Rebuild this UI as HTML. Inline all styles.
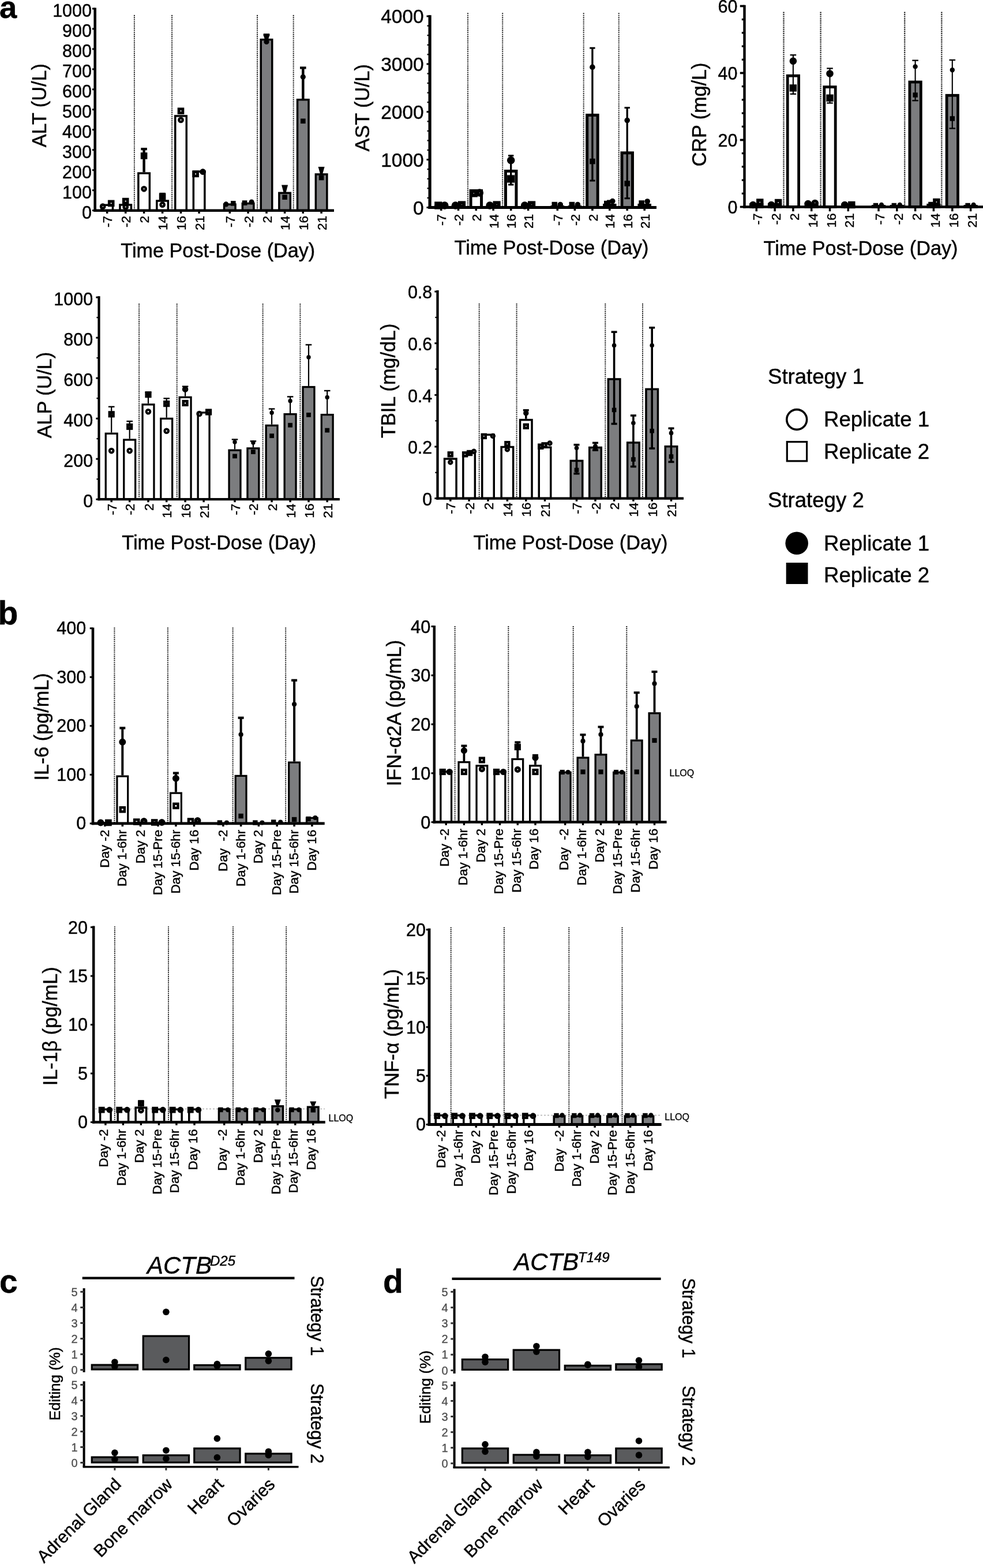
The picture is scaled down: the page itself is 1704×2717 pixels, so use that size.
<!DOCTYPE html>
<html><head><meta charset="utf-8"><title>Figure</title>
<style>
html,body{margin:0;padding:0;background:#fff;}
body{width:1704px;height:2717px;overflow:hidden;}
svg{display:block;}
text{font-family:"Liberation Sans", Arial, Helvetica, sans-serif;}
</style></head>
<body>
<svg width="1704" height="2717" viewBox="0 0 1704 2717">
<rect x="0" y="0" width="1704" height="2717" fill="#fff"/>
<line x1="232.9" y1="26" x2="232.9" y2="364.7" stroke="#000" stroke-width="2" stroke-linecap="butt" stroke-dasharray="1.7,1.6"/>
<line x1="298.1" y1="26" x2="298.1" y2="364.7" stroke="#000" stroke-width="2" stroke-linecap="butt" stroke-dasharray="1.7,1.6"/>
<line x1="446" y1="26" x2="446" y2="364.7" stroke="#000" stroke-width="2" stroke-linecap="butt" stroke-dasharray="1.7,1.6"/>
<line x1="508.7" y1="26" x2="508.7" y2="364.7" stroke="#000" stroke-width="2" stroke-linecap="butt" stroke-dasharray="1.7,1.6"/>
<rect x="175.95" y="355.25" width="19.5" height="9.45" fill="#fff" stroke="#000" stroke-width="3.5"/>
<circle cx="178.2" cy="357.7" r="3.25" fill="none" stroke="#000" stroke-width="4.3"/>
<rect x="189.3" y="349" width="6.8" height="6.8" fill="none" stroke="#000" stroke-width="4.8"/>
<rect x="207.95" y="354.95" width="19.5" height="9.75" fill="#fff" stroke="#000" stroke-width="3.5"/>
<rect x="214.3" y="345.2" width="6.8" height="6.8" fill="none" stroke="#000" stroke-width="4.8"/>
<circle cx="217.7" cy="358.5" r="3.25" fill="none" stroke="#000" stroke-width="4.3"/>
<rect x="239.85" y="300.15" width="19.5" height="64.55" fill="#fff" stroke="#000" stroke-width="3.5"/>
<line x1="249.6" y1="258.2" x2="249.6" y2="298.4" stroke="#000" stroke-width="4.5" stroke-linecap="butt"/>
<line x1="244.3" y1="258.2" x2="254.9" y2="258.2" stroke="#000" stroke-width="4.2" stroke-linecap="butt"/>
<rect x="246.2" y="266.6" width="6.8" height="6.8" fill="none" stroke="#000" stroke-width="4.8"/>
<circle cx="249.6" cy="327.3" r="3.25" fill="none" stroke="#000" stroke-width="4.3"/>
<rect x="271.85" y="348.05" width="19.5" height="16.65" fill="#fff" stroke="#000" stroke-width="3.5"/>
<line x1="281.6" y1="336" x2="281.6" y2="346.3" stroke="#000" stroke-width="4.5" stroke-linecap="butt"/>
<line x1="276.3" y1="336" x2="286.9" y2="336" stroke="#000" stroke-width="4.2" stroke-linecap="butt"/>
<rect x="278.2" y="337.6" width="6.8" height="6.8" fill="none" stroke="#000" stroke-width="4.8"/>
<circle cx="281.6" cy="354.7" r="3.25" fill="none" stroke="#000" stroke-width="4.3"/>
<rect x="303.75" y="200.95" width="19.5" height="163.75" fill="#fff" stroke="#000" stroke-width="3.5"/>
<rect x="310.1" y="188.9" width="6.8" height="6.8" fill="none" stroke="#000" stroke-width="4.8"/>
<circle cx="313.5" cy="207.9" r="3.25" fill="none" stroke="#000" stroke-width="4.3"/>
<rect x="335.35" y="297.15" width="19.5" height="67.55" fill="#fff" stroke="#000" stroke-width="3.5"/>
<rect x="335.7" y="298" width="6.8" height="6.8" fill="none" stroke="#000" stroke-width="4.8"/>
<circle cx="351.6" cy="297.7" r="3.25" fill="none" stroke="#000" stroke-width="4.3"/>
<rect x="388.55" y="354.15" width="19.5" height="10.55" fill="#7c7d7f" stroke="#000" stroke-width="3.5"/>
<circle cx="391.8" cy="353.9" r="4.6" fill="#000"/>
<rect x="400" y="348.1" width="8.6" height="8.6" fill="#000"/>
<rect x="420.35" y="352.55" width="19.5" height="12.15" fill="#7c7d7f" stroke="#000" stroke-width="3.5"/>
<rect x="419.8" y="347.3" width="8.6" height="8.6" fill="#000"/>
<circle cx="436.1" cy="350" r="4.6" fill="#000"/>
<rect x="452.25" y="68.65" width="19.5" height="296.05" fill="#7c7d7f" stroke="#000" stroke-width="3.5"/>
<line x1="462" y1="60.3" x2="462" y2="66.9" stroke="#000" stroke-width="4.5" stroke-linecap="butt"/>
<line x1="456.7" y1="60.3" x2="467.3" y2="60.3" stroke="#000" stroke-width="4.2" stroke-linecap="butt"/>
<polygon points="456.5,60 467.5,60 464.2,71 459.8,71" fill="#000"/>
<circle cx="462" cy="72.5" r="4.6" fill="#000"/>
<rect x="483.85" y="334.35" width="19.5" height="30.35" fill="#7c7d7f" stroke="#000" stroke-width="3.5"/>
<polygon points="488.1,320.4 499.1,320.4 495.8,333 491.4,333" fill="#000"/>
<rect x="489.3" y="337.4" width="8.6" height="8.6" fill="#000"/>
<rect x="515.55" y="172.75" width="19.5" height="191.95" fill="#7c7d7f" stroke="#000" stroke-width="3.5"/>
<line x1="525.3" y1="117.5" x2="525.3" y2="171" stroke="#000" stroke-width="4.5" stroke-linecap="butt"/>
<line x1="520" y1="117.5" x2="530.6" y2="117.5" stroke="#000" stroke-width="4.2" stroke-linecap="butt"/>
<circle cx="525.3" cy="133.3" r="4.6" fill="#000"/>
<rect x="521" y="205.5" width="8.6" height="8.6" fill="#000"/>
<rect x="547.35" y="302.05" width="19.5" height="62.65" fill="#7c7d7f" stroke="#000" stroke-width="3.5"/>
<polygon points="551.6,289 562.6,289 559.3,301 554.9,301" fill="#000"/>
<rect x="552.8" y="303.7" width="8.6" height="8.6" fill="#000"/>
<line x1="164.7" y1="13.6" x2="164.7" y2="367" stroke="#000" stroke-width="4.6" stroke-linecap="butt"/>
<line x1="162.4" y1="364.7" x2="579" y2="364.7" stroke="#000" stroke-width="4.6" stroke-linecap="butt"/>
<line x1="159.9" y1="364.7" x2="164.7" y2="364.7" stroke="#000" stroke-width="3" stroke-linecap="butt"/>
<text x="159" y="379" font-size="30.5" text-anchor="end" stroke="#000" stroke-width="0.45">0</text>
<line x1="159.9" y1="329.73" x2="164.7" y2="329.73" stroke="#000" stroke-width="3" stroke-linecap="butt"/>
<text x="159" y="344.03" font-size="30.5" text-anchor="end" stroke="#000" stroke-width="0.45">100</text>
<line x1="159.9" y1="294.76" x2="164.7" y2="294.76" stroke="#000" stroke-width="3" stroke-linecap="butt"/>
<text x="159" y="309.06" font-size="30.5" text-anchor="end" stroke="#000" stroke-width="0.45">200</text>
<line x1="159.9" y1="259.79" x2="164.7" y2="259.79" stroke="#000" stroke-width="3" stroke-linecap="butt"/>
<text x="159" y="274.09" font-size="30.5" text-anchor="end" stroke="#000" stroke-width="0.45">300</text>
<line x1="159.9" y1="224.82" x2="164.7" y2="224.82" stroke="#000" stroke-width="3" stroke-linecap="butt"/>
<text x="159" y="239.12" font-size="30.5" text-anchor="end" stroke="#000" stroke-width="0.45">400</text>
<line x1="159.9" y1="189.85" x2="164.7" y2="189.85" stroke="#000" stroke-width="3" stroke-linecap="butt"/>
<text x="159" y="204.15" font-size="30.5" text-anchor="end" stroke="#000" stroke-width="0.45">500</text>
<line x1="159.9" y1="154.88" x2="164.7" y2="154.88" stroke="#000" stroke-width="3" stroke-linecap="butt"/>
<text x="159" y="169.18" font-size="30.5" text-anchor="end" stroke="#000" stroke-width="0.45">600</text>
<line x1="159.9" y1="119.91" x2="164.7" y2="119.91" stroke="#000" stroke-width="3" stroke-linecap="butt"/>
<text x="159" y="134.21" font-size="30.5" text-anchor="end" stroke="#000" stroke-width="0.45">700</text>
<line x1="159.9" y1="84.94" x2="164.7" y2="84.94" stroke="#000" stroke-width="3" stroke-linecap="butt"/>
<text x="159" y="99.24" font-size="30.5" text-anchor="end" stroke="#000" stroke-width="0.45">800</text>
<line x1="159.9" y1="49.97" x2="164.7" y2="49.97" stroke="#000" stroke-width="3" stroke-linecap="butt"/>
<text x="159" y="64.27" font-size="30.5" text-anchor="end" stroke="#000" stroke-width="0.45">900</text>
<line x1="159.9" y1="15" x2="164.7" y2="15" stroke="#000" stroke-width="3" stroke-linecap="butt"/>
<text x="159" y="29.3" font-size="30.5" text-anchor="end" stroke="#000" stroke-width="0.45">1000</text>
<line x1="185.7" y1="364.7" x2="185.7" y2="370" stroke="#000" stroke-width="3.5" stroke-linecap="butt"/>
<line x1="217.7" y1="364.7" x2="217.7" y2="370" stroke="#000" stroke-width="3.5" stroke-linecap="butt"/>
<line x1="249.6" y1="364.7" x2="249.6" y2="370" stroke="#000" stroke-width="3.5" stroke-linecap="butt"/>
<line x1="281.6" y1="364.7" x2="281.6" y2="370" stroke="#000" stroke-width="3.5" stroke-linecap="butt"/>
<line x1="313.5" y1="364.7" x2="313.5" y2="370" stroke="#000" stroke-width="3.5" stroke-linecap="butt"/>
<line x1="345.1" y1="364.7" x2="345.1" y2="370" stroke="#000" stroke-width="3.5" stroke-linecap="butt"/>
<line x1="398.3" y1="364.7" x2="398.3" y2="370" stroke="#000" stroke-width="3.5" stroke-linecap="butt"/>
<line x1="430.1" y1="364.7" x2="430.1" y2="370" stroke="#000" stroke-width="3.5" stroke-linecap="butt"/>
<line x1="462" y1="364.7" x2="462" y2="370" stroke="#000" stroke-width="3.5" stroke-linecap="butt"/>
<line x1="493.6" y1="364.7" x2="493.6" y2="370" stroke="#000" stroke-width="3.5" stroke-linecap="butt"/>
<line x1="525.3" y1="364.7" x2="525.3" y2="370" stroke="#000" stroke-width="3.5" stroke-linecap="butt"/>
<line x1="557.1" y1="364.7" x2="557.1" y2="370" stroke="#000" stroke-width="3.5" stroke-linecap="butt"/>
<text x="194.3" y="374" font-size="22.5" text-anchor="end" stroke="#000" stroke-width="0.45" transform="rotate(-90 194.3 374)">-7</text>
<text x="226.3" y="374" font-size="22.5" text-anchor="end" stroke="#000" stroke-width="0.45" transform="rotate(-90 226.3 374)">-2</text>
<text x="258.2" y="374" font-size="22.5" text-anchor="end" stroke="#000" stroke-width="0.45" transform="rotate(-90 258.2 374)">2</text>
<text x="290.2" y="374" font-size="22.5" text-anchor="end" stroke="#000" stroke-width="0.45" transform="rotate(-90 290.2 374)">14</text>
<text x="322.1" y="374" font-size="22.5" text-anchor="end" stroke="#000" stroke-width="0.45" transform="rotate(-90 322.1 374)">16</text>
<text x="353.7" y="374" font-size="22.5" text-anchor="end" stroke="#000" stroke-width="0.45" transform="rotate(-90 353.7 374)">21</text>
<text x="406.9" y="374" font-size="22.5" text-anchor="end" stroke="#000" stroke-width="0.45" transform="rotate(-90 406.9 374)">-7</text>
<text x="438.7" y="374" font-size="22.5" text-anchor="end" stroke="#000" stroke-width="0.45" transform="rotate(-90 438.7 374)">-2</text>
<text x="470.6" y="374" font-size="22.5" text-anchor="end" stroke="#000" stroke-width="0.45" transform="rotate(-90 470.6 374)">2</text>
<text x="502.2" y="374" font-size="22.5" text-anchor="end" stroke="#000" stroke-width="0.45" transform="rotate(-90 502.2 374)">14</text>
<text x="533.9" y="374" font-size="22.5" text-anchor="end" stroke="#000" stroke-width="0.45" transform="rotate(-90 533.9 374)">16</text>
<text x="565.7" y="374" font-size="22.5" text-anchor="end" stroke="#000" stroke-width="0.45" transform="rotate(-90 565.7 374)">21</text>
<text x="79.8" y="182.7" font-size="34.2" text-anchor="middle" stroke="#000" stroke-width="0.45" transform="rotate(-90 79.8 182.7)">ALT (U/L)</text>
<text x="377.8" y="445.6" font-size="34.2" text-anchor="middle" stroke="#000" stroke-width="0.45">Time Post-Dose (Day)</text>
<line x1="811" y1="22.6" x2="811" y2="359.5" stroke="#000" stroke-width="2" stroke-linecap="butt" stroke-dasharray="1.7,1.6"/>
<line x1="871.2" y1="22.6" x2="871.2" y2="359.5" stroke="#000" stroke-width="2" stroke-linecap="butt" stroke-dasharray="1.7,1.6"/>
<line x1="1011.7" y1="22.6" x2="1011.7" y2="359.5" stroke="#000" stroke-width="2" stroke-linecap="butt" stroke-dasharray="1.7,1.6"/>
<line x1="1072.7" y1="22.6" x2="1072.7" y2="359.5" stroke="#000" stroke-width="2" stroke-linecap="butt" stroke-dasharray="1.7,1.6"/>
<rect x="755.55" y="357.5" width="18.5" height="2" fill="#fff" stroke="#000" stroke-width="5"/>
<rect x="756.2" y="352.4" width="7.2" height="7.2" fill="none" stroke="#000" stroke-width="6"/>
<circle cx="770.8" cy="356" r="3.7" fill="none" stroke="#000" stroke-width="6.2"/>
<rect x="785.25" y="357.5" width="18.5" height="2" fill="#fff" stroke="#000" stroke-width="5"/>
<circle cx="789.5" cy="356" r="3.7" fill="none" stroke="#000" stroke-width="6.2"/>
<rect x="796.9" y="351.4" width="7.2" height="7.2" fill="none" stroke="#000" stroke-width="6"/>
<rect x="816.05" y="330.5" width="18.5" height="29" fill="#fff" stroke="#000" stroke-width="5"/>
<rect x="817.7" y="331.4" width="7.2" height="7.2" fill="none" stroke="#000" stroke-width="6"/>
<circle cx="831.3" cy="334" r="3.7" fill="none" stroke="#000" stroke-width="6.2"/>
<rect x="845.85" y="357.5" width="18.5" height="2" fill="#fff" stroke="#000" stroke-width="5"/>
<circle cx="849.1" cy="356" r="3.7" fill="none" stroke="#000" stroke-width="6.2"/>
<rect x="857.5" y="351.4" width="7.2" height="7.2" fill="none" stroke="#000" stroke-width="6"/>
<rect x="876.45" y="296.5" width="18.5" height="63" fill="#fff" stroke="#000" stroke-width="5"/>
<line x1="885.7" y1="269.7" x2="885.7" y2="320" stroke="#000" stroke-width="3.3" stroke-linecap="butt"/>
<line x1="881" y1="269.7" x2="890.4" y2="269.7" stroke="#000" stroke-width="3" stroke-linecap="butt"/>
<line x1="881" y1="320" x2="890.4" y2="320" stroke="#000" stroke-width="3" stroke-linecap="butt"/>
<circle cx="885.7" cy="277.7" r="3.7" fill="none" stroke="#000" stroke-width="6.2"/>
<rect x="882.1" y="306.4" width="7.2" height="7.2" fill="none" stroke="#000" stroke-width="6"/>
<rect x="906.35" y="357.5" width="18.5" height="2" fill="#fff" stroke="#000" stroke-width="5"/>
<circle cx="909.6" cy="356" r="3.7" fill="none" stroke="#000" stroke-width="6.2"/>
<rect x="918" y="351.4" width="7.2" height="7.2" fill="none" stroke="#000" stroke-width="6"/>
<rect x="957.05" y="358.5" width="18.5" height="1" fill="#7c7d7f" stroke="#000" stroke-width="5"/>
<rect x="956.5" y="349.8" width="9.6" height="9.6" fill="#000"/>
<circle cx="971.3" cy="354.6" r="4.8" fill="#000"/>
<rect x="987.15" y="358.5" width="18.5" height="1" fill="#7c7d7f" stroke="#000" stroke-width="5"/>
<rect x="986.6" y="349.8" width="9.6" height="9.6" fill="#000"/>
<circle cx="1001.4" cy="354.6" r="4.8" fill="#000"/>
<rect x="1017.65" y="199.5" width="18.5" height="160" fill="#7c7d7f" stroke="#000" stroke-width="5"/>
<line x1="1026.9" y1="83.2" x2="1026.9" y2="313" stroke="#000" stroke-width="3.3" stroke-linecap="butt"/>
<line x1="1022.2" y1="83.2" x2="1031.6" y2="83.2" stroke="#000" stroke-width="3" stroke-linecap="butt"/>
<line x1="1022.2" y1="313" x2="1031.6" y2="313" stroke="#000" stroke-width="3" stroke-linecap="butt"/>
<circle cx="1026.9" cy="116.4" r="4.8" fill="#000"/>
<rect x="1022.1" y="274.8" width="9.6" height="9.6" fill="#000"/>
<rect x="1047.55" y="355.5" width="18.5" height="4" fill="#7c7d7f" stroke="#000" stroke-width="5"/>
<line x1="1056.8" y1="348" x2="1056.8" y2="353" stroke="#000" stroke-width="3.3" stroke-linecap="butt"/>
<line x1="1052.1" y1="348" x2="1061.5" y2="348" stroke="#000" stroke-width="3" stroke-linecap="butt"/>
<rect x="1047" y="347.8" width="9.6" height="9.6" fill="#000"/>
<circle cx="1061.8" cy="348.6" r="4.8" fill="#000"/>
<rect x="1077.95" y="264.9" width="18.5" height="94.6" fill="#7c7d7f" stroke="#000" stroke-width="5"/>
<line x1="1087.2" y1="186.7" x2="1087.2" y2="343.7" stroke="#000" stroke-width="3.3" stroke-linecap="butt"/>
<line x1="1082.5" y1="186.7" x2="1091.9" y2="186.7" stroke="#000" stroke-width="3" stroke-linecap="butt"/>
<line x1="1082.5" y1="343.7" x2="1091.9" y2="343.7" stroke="#000" stroke-width="3" stroke-linecap="butt"/>
<circle cx="1087.2" cy="208.6" r="4.8" fill="#000"/>
<rect x="1082.4" y="313.2" width="9.6" height="9.6" fill="#000"/>
<rect x="1107.95" y="355.5" width="18.5" height="4" fill="#7c7d7f" stroke="#000" stroke-width="5"/>
<rect x="1107.4" y="347.2" width="9.6" height="9.6" fill="#000"/>
<circle cx="1122.2" cy="349" r="4.8" fill="#000"/>
<line x1="745.1" y1="26.3" x2="745.1" y2="362.1" stroke="#000" stroke-width="5.2" stroke-linecap="butt"/>
<line x1="742.5" y1="359.5" x2="1138" y2="359.5" stroke="#000" stroke-width="5.2" stroke-linecap="butt"/>
<line x1="739.5" y1="359.5" x2="745.1" y2="359.5" stroke="#000" stroke-width="3" stroke-linecap="butt"/>
<text x="734.7" y="371.5" font-size="33.5" text-anchor="end" stroke="#000" stroke-width="0.45">0</text>
<line x1="739.5" y1="276.65" x2="745.1" y2="276.65" stroke="#000" stroke-width="3" stroke-linecap="butt"/>
<text x="734.7" y="288.65" font-size="33.5" text-anchor="end" stroke="#000" stroke-width="0.45">1000</text>
<line x1="739.5" y1="193.8" x2="745.1" y2="193.8" stroke="#000" stroke-width="3" stroke-linecap="butt"/>
<text x="734.7" y="205.8" font-size="33.5" text-anchor="end" stroke="#000" stroke-width="0.45">2000</text>
<line x1="739.5" y1="110.95" x2="745.1" y2="110.95" stroke="#000" stroke-width="3" stroke-linecap="butt"/>
<text x="734.7" y="122.95" font-size="33.5" text-anchor="end" stroke="#000" stroke-width="0.45">3000</text>
<line x1="739.5" y1="28.1" x2="745.1" y2="28.1" stroke="#000" stroke-width="3" stroke-linecap="butt"/>
<text x="734.7" y="40.1" font-size="33.5" text-anchor="end" stroke="#000" stroke-width="0.45">4000</text>
<line x1="740.5" y1="342.93" x2="745.1" y2="342.93" stroke="#000" stroke-width="2.2" stroke-linecap="butt"/>
<line x1="740.5" y1="326.36" x2="745.1" y2="326.36" stroke="#000" stroke-width="2.2" stroke-linecap="butt"/>
<line x1="740.5" y1="309.79" x2="745.1" y2="309.79" stroke="#000" stroke-width="2.2" stroke-linecap="butt"/>
<line x1="740.5" y1="293.22" x2="745.1" y2="293.22" stroke="#000" stroke-width="2.2" stroke-linecap="butt"/>
<line x1="740.5" y1="260.08" x2="745.1" y2="260.08" stroke="#000" stroke-width="2.2" stroke-linecap="butt"/>
<line x1="740.5" y1="243.51" x2="745.1" y2="243.51" stroke="#000" stroke-width="2.2" stroke-linecap="butt"/>
<line x1="740.5" y1="226.94" x2="745.1" y2="226.94" stroke="#000" stroke-width="2.2" stroke-linecap="butt"/>
<line x1="740.5" y1="210.37" x2="745.1" y2="210.37" stroke="#000" stroke-width="2.2" stroke-linecap="butt"/>
<line x1="740.5" y1="177.23" x2="745.1" y2="177.23" stroke="#000" stroke-width="2.2" stroke-linecap="butt"/>
<line x1="740.5" y1="160.66" x2="745.1" y2="160.66" stroke="#000" stroke-width="2.2" stroke-linecap="butt"/>
<line x1="740.5" y1="144.09" x2="745.1" y2="144.09" stroke="#000" stroke-width="2.2" stroke-linecap="butt"/>
<line x1="740.5" y1="127.52" x2="745.1" y2="127.52" stroke="#000" stroke-width="2.2" stroke-linecap="butt"/>
<line x1="740.5" y1="94.38" x2="745.1" y2="94.38" stroke="#000" stroke-width="2.2" stroke-linecap="butt"/>
<line x1="740.5" y1="77.81" x2="745.1" y2="77.81" stroke="#000" stroke-width="2.2" stroke-linecap="butt"/>
<line x1="740.5" y1="61.24" x2="745.1" y2="61.24" stroke="#000" stroke-width="2.2" stroke-linecap="butt"/>
<line x1="740.5" y1="44.67" x2="745.1" y2="44.67" stroke="#000" stroke-width="2.2" stroke-linecap="butt"/>
<line x1="764.8" y1="359.5" x2="764.8" y2="365.1" stroke="#000" stroke-width="3.5" stroke-linecap="butt"/>
<line x1="794.5" y1="359.5" x2="794.5" y2="365.1" stroke="#000" stroke-width="3.5" stroke-linecap="butt"/>
<line x1="825.3" y1="359.5" x2="825.3" y2="365.1" stroke="#000" stroke-width="3.5" stroke-linecap="butt"/>
<line x1="855.1" y1="359.5" x2="855.1" y2="365.1" stroke="#000" stroke-width="3.5" stroke-linecap="butt"/>
<line x1="885.7" y1="359.5" x2="885.7" y2="365.1" stroke="#000" stroke-width="3.5" stroke-linecap="butt"/>
<line x1="915.6" y1="359.5" x2="915.6" y2="365.1" stroke="#000" stroke-width="3.5" stroke-linecap="butt"/>
<line x1="966.3" y1="359.5" x2="966.3" y2="365.1" stroke="#000" stroke-width="3.5" stroke-linecap="butt"/>
<line x1="996.4" y1="359.5" x2="996.4" y2="365.1" stroke="#000" stroke-width="3.5" stroke-linecap="butt"/>
<line x1="1026.9" y1="359.5" x2="1026.9" y2="365.1" stroke="#000" stroke-width="3.5" stroke-linecap="butt"/>
<line x1="1056.8" y1="359.5" x2="1056.8" y2="365.1" stroke="#000" stroke-width="3.5" stroke-linecap="butt"/>
<line x1="1087.2" y1="359.5" x2="1087.2" y2="365.1" stroke="#000" stroke-width="3.5" stroke-linecap="butt"/>
<line x1="1117.2" y1="359.5" x2="1117.2" y2="365.1" stroke="#000" stroke-width="3.5" stroke-linecap="butt"/>
<text x="773.4" y="371" font-size="22.5" text-anchor="end" stroke="#000" stroke-width="0.45" transform="rotate(-90 773.4 371)">-7</text>
<text x="803.1" y="371" font-size="22.5" text-anchor="end" stroke="#000" stroke-width="0.45" transform="rotate(-90 803.1 371)">-2</text>
<text x="833.9" y="371" font-size="22.5" text-anchor="end" stroke="#000" stroke-width="0.45" transform="rotate(-90 833.9 371)">2</text>
<text x="863.7" y="371" font-size="22.5" text-anchor="end" stroke="#000" stroke-width="0.45" transform="rotate(-90 863.7 371)">14</text>
<text x="894.3" y="371" font-size="22.5" text-anchor="end" stroke="#000" stroke-width="0.45" transform="rotate(-90 894.3 371)">16</text>
<text x="924.2" y="371" font-size="22.5" text-anchor="end" stroke="#000" stroke-width="0.45" transform="rotate(-90 924.2 371)">21</text>
<text x="974.9" y="371" font-size="22.5" text-anchor="end" stroke="#000" stroke-width="0.45" transform="rotate(-90 974.9 371)">-7</text>
<text x="1005" y="371" font-size="22.5" text-anchor="end" stroke="#000" stroke-width="0.45" transform="rotate(-90 1005 371)">-2</text>
<text x="1035.5" y="371" font-size="22.5" text-anchor="end" stroke="#000" stroke-width="0.45" transform="rotate(-90 1035.5 371)">2</text>
<text x="1065.4" y="371" font-size="22.5" text-anchor="end" stroke="#000" stroke-width="0.45" transform="rotate(-90 1065.4 371)">14</text>
<text x="1095.8" y="371" font-size="22.5" text-anchor="end" stroke="#000" stroke-width="0.45" transform="rotate(-90 1095.8 371)">16</text>
<text x="1125.8" y="371" font-size="22.5" text-anchor="end" stroke="#000" stroke-width="0.45" transform="rotate(-90 1125.8 371)">21</text>
<text x="639.8" y="186.7" font-size="34.2" text-anchor="middle" stroke="#000" stroke-width="0.45" transform="rotate(-90 639.8 186.7)">AST (U/L)</text>
<text x="956" y="441.3" font-size="34.2" text-anchor="middle" stroke="#000" stroke-width="0.45">Time Post-Dose (Day)</text>
<line x1="1358.5" y1="20.8" x2="1358.5" y2="358.5" stroke="#000" stroke-width="2.4" stroke-linecap="butt" stroke-dasharray="1.7,1.6"/>
<line x1="1422.6" y1="20.8" x2="1422.6" y2="358.5" stroke="#000" stroke-width="2.4" stroke-linecap="butt" stroke-dasharray="1.7,1.6"/>
<line x1="1568.2" y1="20.8" x2="1568.2" y2="358.5" stroke="#000" stroke-width="2.4" stroke-linecap="butt" stroke-dasharray="1.7,1.6"/>
<line x1="1632.3" y1="20.8" x2="1632.3" y2="358.5" stroke="#000" stroke-width="2.4" stroke-linecap="butt" stroke-dasharray="1.7,1.6"/>
<rect x="1301.6" y="354.4" width="19.4" height="4.1" fill="#fff" stroke="#000" stroke-width="4.8"/>
<circle cx="1305.3" cy="355" r="3.6" fill="none" stroke="#000" stroke-width="5.4"/>
<rect x="1313.8" y="347" width="7" height="7" fill="none" stroke="#000" stroke-width="5.4"/>
<rect x="1333.4" y="354.4" width="19.4" height="4.1" fill="#fff" stroke="#000" stroke-width="4.8"/>
<circle cx="1337.1" cy="355" r="3.6" fill="none" stroke="#000" stroke-width="5.4"/>
<rect x="1345.6" y="347.5" width="7" height="7" fill="none" stroke="#000" stroke-width="5.4"/>
<rect x="1365.2" y="131.3" width="19.4" height="227.2" fill="#fff" stroke="#000" stroke-width="4.8"/>
<line x1="1374.9" y1="95.3" x2="1374.9" y2="162.9" stroke="#000" stroke-width="2.1" stroke-linecap="butt"/>
<line x1="1369.6" y1="95.3" x2="1380.2" y2="95.3" stroke="#000" stroke-width="2.3" stroke-linecap="butt"/>
<line x1="1369.6" y1="162.9" x2="1380.2" y2="162.9" stroke="#000" stroke-width="2.3" stroke-linecap="butt"/>
<circle cx="1374.9" cy="105.7" r="3.6" fill="none" stroke="#000" stroke-width="5.4"/>
<rect x="1371.4" y="149" width="7" height="7" fill="none" stroke="#000" stroke-width="5.4"/>
<rect x="1397" y="354.4" width="19.4" height="4.1" fill="#fff" stroke="#000" stroke-width="4.8"/>
<circle cx="1400.7" cy="353" r="3.6" fill="none" stroke="#000" stroke-width="5.4"/>
<circle cx="1412.7" cy="352" r="3.6" fill="none" stroke="#000" stroke-width="5.4"/>
<rect x="1428.8" y="150.7" width="19.4" height="207.8" fill="#fff" stroke="#000" stroke-width="4.8"/>
<line x1="1438.5" y1="118.5" x2="1438.5" y2="178.5" stroke="#000" stroke-width="2.1" stroke-linecap="butt"/>
<line x1="1433.2" y1="118.5" x2="1443.8" y2="118.5" stroke="#000" stroke-width="2.3" stroke-linecap="butt"/>
<line x1="1433.2" y1="178.5" x2="1443.8" y2="178.5" stroke="#000" stroke-width="2.3" stroke-linecap="butt"/>
<circle cx="1438.5" cy="127.5" r="3.6" fill="none" stroke="#000" stroke-width="5.4"/>
<rect x="1435" y="166.3" width="7" height="7" fill="none" stroke="#000" stroke-width="5.4"/>
<rect x="1460.6" y="356.4" width="19.4" height="2.1" fill="#fff" stroke="#000" stroke-width="4.8"/>
<circle cx="1464.3" cy="355" r="3.6" fill="none" stroke="#000" stroke-width="5.4"/>
<rect x="1472.8" y="351.5" width="7" height="7" fill="none" stroke="#000" stroke-width="5.4"/>
<rect x="1513.3" y="357.4" width="19.4" height="1.1" fill="#7c7d7f" stroke="#000" stroke-width="4.8"/>
<rect x="1513.8" y="351.8" width="8.4" height="8.4" fill="#000"/>
<circle cx="1528" cy="355" r="4.2" fill="#000"/>
<rect x="1545.1" y="357.4" width="19.4" height="1.1" fill="#7c7d7f" stroke="#000" stroke-width="4.8"/>
<rect x="1545.6" y="351.8" width="8.4" height="8.4" fill="#000"/>
<circle cx="1559.8" cy="355" r="4.2" fill="#000"/>
<rect x="1576.9" y="142.1" width="19.4" height="216.4" fill="#7c7d7f" stroke="#000" stroke-width="4.8"/>
<line x1="1586.6" y1="104.7" x2="1586.6" y2="174.3" stroke="#000" stroke-width="2.1" stroke-linecap="butt"/>
<line x1="1581.3" y1="104.7" x2="1591.9" y2="104.7" stroke="#000" stroke-width="2.3" stroke-linecap="butt"/>
<line x1="1581.3" y1="174.3" x2="1591.9" y2="174.3" stroke="#000" stroke-width="2.3" stroke-linecap="butt"/>
<circle cx="1586.6" cy="115.4" r="4.2" fill="#000"/>
<rect x="1582.4" y="160.4" width="8.4" height="8.4" fill="#000"/>
<rect x="1608.7" y="355.4" width="19.4" height="3.1" fill="#7c7d7f" stroke="#000" stroke-width="4.8"/>
<rect x="1609.2" y="349.8" width="8.4" height="8.4" fill="#000"/>
<rect x="1619.9" y="346.5" width="7" height="7" fill="none" stroke="#000" stroke-width="5.4"/>
<rect x="1641.1" y="165.3" width="19.4" height="193.2" fill="#7c7d7f" stroke="#000" stroke-width="4.8"/>
<line x1="1650.8" y1="104" x2="1650.8" y2="222.5" stroke="#000" stroke-width="2.1" stroke-linecap="butt"/>
<line x1="1645.5" y1="104" x2="1656.1" y2="104" stroke="#000" stroke-width="2.3" stroke-linecap="butt"/>
<line x1="1645.5" y1="222.5" x2="1656.1" y2="222.5" stroke="#000" stroke-width="2.3" stroke-linecap="butt"/>
<circle cx="1650.8" cy="121.3" r="4.2" fill="#000"/>
<rect x="1646.6" y="201.3" width="8.4" height="8.4" fill="#000"/>
<rect x="1672.9" y="357.4" width="19.4" height="1.1" fill="#7c7d7f" stroke="#000" stroke-width="4.8"/>
<rect x="1673.4" y="351.8" width="8.4" height="8.4" fill="#000"/>
<circle cx="1687.6" cy="355" r="4.2" fill="#000"/>
<line x1="1290.5" y1="8.7" x2="1290.5" y2="360.7" stroke="#000" stroke-width="4.4" stroke-linecap="butt"/>
<line x1="1288.3" y1="358.5" x2="1704" y2="358.5" stroke="#000" stroke-width="4.4" stroke-linecap="butt"/>
<line x1="1282.8" y1="358.5" x2="1290.5" y2="358.5" stroke="#000" stroke-width="3.7" stroke-linecap="butt"/>
<text x="1278.4" y="369.8" font-size="30.5" text-anchor="end" stroke="#000" stroke-width="0.45">0</text>
<line x1="1282.8" y1="242.5" x2="1290.5" y2="242.5" stroke="#000" stroke-width="3.7" stroke-linecap="butt"/>
<text x="1278.4" y="253.8" font-size="30.5" text-anchor="end" stroke="#000" stroke-width="0.45">20</text>
<line x1="1282.8" y1="126.5" x2="1290.5" y2="126.5" stroke="#000" stroke-width="3.7" stroke-linecap="butt"/>
<text x="1278.4" y="137.8" font-size="30.5" text-anchor="end" stroke="#000" stroke-width="0.45">40</text>
<line x1="1282.8" y1="10.5" x2="1290.5" y2="10.5" stroke="#000" stroke-width="3.7" stroke-linecap="butt"/>
<text x="1278.4" y="21.8" font-size="30.5" text-anchor="end" stroke="#000" stroke-width="0.45">60</text>
<line x1="1285.8" y1="335.3" x2="1290.5" y2="335.3" stroke="#000" stroke-width="3.2" stroke-linecap="butt"/>
<line x1="1285.8" y1="312.1" x2="1290.5" y2="312.1" stroke="#000" stroke-width="3.2" stroke-linecap="butt"/>
<line x1="1285.8" y1="288.9" x2="1290.5" y2="288.9" stroke="#000" stroke-width="3.2" stroke-linecap="butt"/>
<line x1="1285.8" y1="265.7" x2="1290.5" y2="265.7" stroke="#000" stroke-width="3.2" stroke-linecap="butt"/>
<line x1="1285.8" y1="219.3" x2="1290.5" y2="219.3" stroke="#000" stroke-width="3.2" stroke-linecap="butt"/>
<line x1="1285.8" y1="196.1" x2="1290.5" y2="196.1" stroke="#000" stroke-width="3.2" stroke-linecap="butt"/>
<line x1="1285.8" y1="172.9" x2="1290.5" y2="172.9" stroke="#000" stroke-width="3.2" stroke-linecap="butt"/>
<line x1="1285.8" y1="149.7" x2="1290.5" y2="149.7" stroke="#000" stroke-width="3.2" stroke-linecap="butt"/>
<line x1="1285.8" y1="103.3" x2="1290.5" y2="103.3" stroke="#000" stroke-width="3.2" stroke-linecap="butt"/>
<line x1="1285.8" y1="80.1" x2="1290.5" y2="80.1" stroke="#000" stroke-width="3.2" stroke-linecap="butt"/>
<line x1="1285.8" y1="56.9" x2="1290.5" y2="56.9" stroke="#000" stroke-width="3.2" stroke-linecap="butt"/>
<line x1="1285.8" y1="33.7" x2="1290.5" y2="33.7" stroke="#000" stroke-width="3.2" stroke-linecap="butt"/>
<line x1="1311.3" y1="358.5" x2="1311.3" y2="366.2" stroke="#000" stroke-width="3.5" stroke-linecap="butt"/>
<line x1="1343.1" y1="358.5" x2="1343.1" y2="366.2" stroke="#000" stroke-width="3.5" stroke-linecap="butt"/>
<line x1="1374.9" y1="358.5" x2="1374.9" y2="366.2" stroke="#000" stroke-width="3.5" stroke-linecap="butt"/>
<line x1="1406.7" y1="358.5" x2="1406.7" y2="366.2" stroke="#000" stroke-width="3.5" stroke-linecap="butt"/>
<line x1="1438.5" y1="358.5" x2="1438.5" y2="366.2" stroke="#000" stroke-width="3.5" stroke-linecap="butt"/>
<line x1="1470.3" y1="358.5" x2="1470.3" y2="366.2" stroke="#000" stroke-width="3.5" stroke-linecap="butt"/>
<line x1="1523" y1="358.5" x2="1523" y2="366.2" stroke="#000" stroke-width="3.5" stroke-linecap="butt"/>
<line x1="1554.8" y1="358.5" x2="1554.8" y2="366.2" stroke="#000" stroke-width="3.5" stroke-linecap="butt"/>
<line x1="1586.6" y1="358.5" x2="1586.6" y2="366.2" stroke="#000" stroke-width="3.5" stroke-linecap="butt"/>
<line x1="1618.4" y1="358.5" x2="1618.4" y2="366.2" stroke="#000" stroke-width="3.5" stroke-linecap="butt"/>
<line x1="1650.8" y1="358.5" x2="1650.8" y2="366.2" stroke="#000" stroke-width="3.5" stroke-linecap="butt"/>
<line x1="1682.6" y1="358.5" x2="1682.6" y2="366.2" stroke="#000" stroke-width="3.5" stroke-linecap="butt"/>
<text x="1321.4" y="369.5" font-size="22.5" text-anchor="end" stroke="#000" stroke-width="0.45" transform="rotate(-90 1321.4 369.5)">-7</text>
<text x="1353.2" y="369.5" font-size="22.5" text-anchor="end" stroke="#000" stroke-width="0.45" transform="rotate(-90 1353.2 369.5)">-2</text>
<text x="1385" y="369.5" font-size="22.5" text-anchor="end" stroke="#000" stroke-width="0.45" transform="rotate(-90 1385 369.5)">2</text>
<text x="1416.8" y="369.5" font-size="22.5" text-anchor="end" stroke="#000" stroke-width="0.45" transform="rotate(-90 1416.8 369.5)">14</text>
<text x="1448.6" y="369.5" font-size="22.5" text-anchor="end" stroke="#000" stroke-width="0.45" transform="rotate(-90 1448.6 369.5)">16</text>
<text x="1480.4" y="369.5" font-size="22.5" text-anchor="end" stroke="#000" stroke-width="0.45" transform="rotate(-90 1480.4 369.5)">21</text>
<text x="1533.1" y="369.5" font-size="22.5" text-anchor="end" stroke="#000" stroke-width="0.45" transform="rotate(-90 1533.1 369.5)">-7</text>
<text x="1564.9" y="369.5" font-size="22.5" text-anchor="end" stroke="#000" stroke-width="0.45" transform="rotate(-90 1564.9 369.5)">-2</text>
<text x="1596.7" y="369.5" font-size="22.5" text-anchor="end" stroke="#000" stroke-width="0.45" transform="rotate(-90 1596.7 369.5)">2</text>
<text x="1628.5" y="369.5" font-size="22.5" text-anchor="end" stroke="#000" stroke-width="0.45" transform="rotate(-90 1628.5 369.5)">14</text>
<text x="1660.9" y="369.5" font-size="22.5" text-anchor="end" stroke="#000" stroke-width="0.45" transform="rotate(-90 1660.9 369.5)">16</text>
<text x="1692.7" y="369.5" font-size="22.5" text-anchor="end" stroke="#000" stroke-width="0.45" transform="rotate(-90 1692.7 369.5)">21</text>
<text x="1224.4" y="198.5" font-size="34.2" text-anchor="middle" stroke="#000" stroke-width="0.45" transform="rotate(-90 1224.4 198.5)">CRP (mg/L)</text>
<text x="1492" y="441.6" font-size="34.2" text-anchor="middle" stroke="#000" stroke-width="0.45">Time Post-Dose (Day)</text>
<line x1="241.1" y1="526.3" x2="241.1" y2="865.1" stroke="#000" stroke-width="2" stroke-linecap="butt" stroke-dasharray="1.7,1.6"/>
<line x1="306.7" y1="526.3" x2="306.7" y2="865.1" stroke="#000" stroke-width="2" stroke-linecap="butt" stroke-dasharray="1.7,1.6"/>
<line x1="455.6" y1="526.3" x2="455.6" y2="865.1" stroke="#000" stroke-width="2" stroke-linecap="butt" stroke-dasharray="1.7,1.6"/>
<line x1="520.4" y1="526.3" x2="520.4" y2="865.1" stroke="#000" stroke-width="2" stroke-linecap="butt" stroke-dasharray="1.7,1.6"/>
<rect x="183.25" y="751.25" width="19.9" height="113.85" fill="#fff" stroke="#000" stroke-width="3.3"/>
<line x1="193.2" y1="704.8" x2="193.2" y2="749.6" stroke="#000" stroke-width="2.2" stroke-linecap="butt"/>
<line x1="187.9" y1="704.8" x2="198.5" y2="704.8" stroke="#000" stroke-width="2.4" stroke-linecap="butt"/>
<rect x="189.9" y="714.5" width="6.6" height="6.6" fill="none" stroke="#000" stroke-width="4.6"/>
<circle cx="193.2" cy="781.1" r="3.3" fill="none" stroke="#000" stroke-width="4"/>
<rect x="214.75" y="762.05" width="19.9" height="103.05" fill="#fff" stroke="#000" stroke-width="3.3"/>
<line x1="224.7" y1="730" x2="224.7" y2="760.4" stroke="#000" stroke-width="2.2" stroke-linecap="butt"/>
<line x1="219.4" y1="730" x2="230" y2="730" stroke="#000" stroke-width="2.4" stroke-linecap="butt"/>
<rect x="221.4" y="736" width="6.6" height="6.6" fill="none" stroke="#000" stroke-width="4.6"/>
<circle cx="224.7" cy="781.1" r="3.3" fill="none" stroke="#000" stroke-width="4"/>
<rect x="247.05" y="700.95" width="19.9" height="164.15" fill="#fff" stroke="#000" stroke-width="3.3"/>
<line x1="257" y1="680" x2="257" y2="699.3" stroke="#000" stroke-width="2.2" stroke-linecap="butt"/>
<line x1="251.7" y1="680" x2="262.3" y2="680" stroke="#000" stroke-width="2.4" stroke-linecap="butt"/>
<rect x="253.7" y="680.4" width="6.6" height="6.6" fill="none" stroke="#000" stroke-width="4.6"/>
<circle cx="257" cy="713.3" r="3.3" fill="none" stroke="#000" stroke-width="4"/>
<rect x="278.75" y="725.35" width="19.9" height="139.75" fill="#fff" stroke="#000" stroke-width="3.3"/>
<line x1="288.7" y1="690.4" x2="288.7" y2="723.7" stroke="#000" stroke-width="2.2" stroke-linecap="butt"/>
<line x1="283.4" y1="690.4" x2="294" y2="690.4" stroke="#000" stroke-width="2.4" stroke-linecap="butt"/>
<rect x="285.4" y="696.3" width="6.6" height="6.6" fill="none" stroke="#000" stroke-width="4.6"/>
<circle cx="288.7" cy="746.7" r="3.3" fill="none" stroke="#000" stroke-width="4"/>
<rect x="311.15" y="688.35" width="19.9" height="176.75" fill="#fff" stroke="#000" stroke-width="3.3"/>
<line x1="321.1" y1="669.6" x2="321.1" y2="686.7" stroke="#000" stroke-width="2.2" stroke-linecap="butt"/>
<line x1="315.8" y1="669.6" x2="326.4" y2="669.6" stroke="#000" stroke-width="2.4" stroke-linecap="butt"/>
<circle cx="321.1" cy="674.4" r="3.3" fill="none" stroke="#000" stroke-width="4"/>
<rect x="317.8" y="695.2" width="6.6" height="6.6" fill="none" stroke="#000" stroke-width="4.6"/>
<rect x="343.15" y="714.95" width="19.9" height="150.15" fill="#fff" stroke="#000" stroke-width="3.3"/>
<circle cx="345.6" cy="717" r="3.3" fill="none" stroke="#000" stroke-width="4"/>
<rect x="358.3" y="710.7" width="6.6" height="6.6" fill="none" stroke="#000" stroke-width="4.6"/>
<rect x="397.05" y="780.15" width="19.9" height="84.95" fill="#7c7d7f" stroke="#000" stroke-width="3.3"/>
<line x1="407" y1="761.5" x2="407" y2="778.5" stroke="#000" stroke-width="2.2" stroke-linecap="butt"/>
<line x1="401.7" y1="761.5" x2="412.3" y2="761.5" stroke="#000" stroke-width="2.4" stroke-linecap="butt"/>
<circle cx="407" cy="766" r="3.7" fill="#000"/>
<rect x="403.1" y="786.5" width="7.8" height="7.8" fill="#000"/>
<rect x="428.95" y="776.85" width="19.9" height="88.25" fill="#7c7d7f" stroke="#000" stroke-width="3.3"/>
<line x1="438.9" y1="764.4" x2="438.9" y2="775.2" stroke="#000" stroke-width="2.2" stroke-linecap="butt"/>
<line x1="433.6" y1="764.4" x2="444.2" y2="764.4" stroke="#000" stroke-width="2.4" stroke-linecap="butt"/>
<circle cx="438.9" cy="767" r="3.7" fill="#000"/>
<rect x="435" y="779.1" width="7.8" height="7.8" fill="#000"/>
<rect x="461.15" y="737.25" width="19.9" height="127.85" fill="#7c7d7f" stroke="#000" stroke-width="3.3"/>
<line x1="471.1" y1="708.5" x2="471.1" y2="735.6" stroke="#000" stroke-width="2.2" stroke-linecap="butt"/>
<line x1="465.8" y1="708.5" x2="476.4" y2="708.5" stroke="#000" stroke-width="2.4" stroke-linecap="butt"/>
<circle cx="471.1" cy="715.2" r="3.7" fill="#000"/>
<rect x="467.2" y="751.3" width="7.8" height="7.8" fill="#000"/>
<rect x="493.15" y="717.65" width="19.9" height="147.45" fill="#7c7d7f" stroke="#000" stroke-width="3.3"/>
<line x1="503.1" y1="687.4" x2="503.1" y2="716" stroke="#000" stroke-width="2.2" stroke-linecap="butt"/>
<line x1="497.8" y1="687.4" x2="508.4" y2="687.4" stroke="#000" stroke-width="2.4" stroke-linecap="butt"/>
<circle cx="503.1" cy="694.8" r="3.7" fill="#000"/>
<rect x="499.2" y="732.8" width="7.8" height="7.8" fill="#000"/>
<rect x="525.05" y="670.55" width="19.9" height="194.55" fill="#7c7d7f" stroke="#000" stroke-width="3.3"/>
<line x1="535" y1="597.4" x2="535" y2="668.9" stroke="#000" stroke-width="2.2" stroke-linecap="butt"/>
<line x1="529.7" y1="597.4" x2="540.3" y2="597.4" stroke="#000" stroke-width="2.4" stroke-linecap="butt"/>
<circle cx="535" cy="618.9" r="3.7" fill="#000"/>
<rect x="531.1" y="715" width="7.8" height="7.8" fill="#000"/>
<rect x="557.25" y="718.65" width="19.9" height="146.45" fill="#7c7d7f" stroke="#000" stroke-width="3.3"/>
<line x1="567.2" y1="677" x2="567.2" y2="717" stroke="#000" stroke-width="2.2" stroke-linecap="butt"/>
<line x1="561.9" y1="677" x2="572.5" y2="677" stroke="#000" stroke-width="2.4" stroke-linecap="butt"/>
<circle cx="567.2" cy="688.5" r="3.7" fill="#000"/>
<rect x="563.3" y="741.7" width="7.8" height="7.8" fill="#000"/>
<line x1="171.5" y1="513.3" x2="171.5" y2="867.2" stroke="#000" stroke-width="4.2" stroke-linecap="butt"/>
<line x1="169.4" y1="865.1" x2="588.9" y2="865.1" stroke="#000" stroke-width="4.2" stroke-linecap="butt"/>
<line x1="166.4" y1="865.2" x2="171.5" y2="865.2" stroke="#000" stroke-width="3" stroke-linecap="butt"/>
<text x="161.2" y="879" font-size="30.5" text-anchor="end" stroke="#000" stroke-width="0.45">0</text>
<line x1="166.4" y1="795.2" x2="171.5" y2="795.2" stroke="#000" stroke-width="3" stroke-linecap="butt"/>
<text x="161.2" y="809" font-size="30.5" text-anchor="end" stroke="#000" stroke-width="0.45">200</text>
<line x1="166.4" y1="725.2" x2="171.5" y2="725.2" stroke="#000" stroke-width="3" stroke-linecap="butt"/>
<text x="161.2" y="739" font-size="30.5" text-anchor="end" stroke="#000" stroke-width="0.45">400</text>
<line x1="166.4" y1="655.2" x2="171.5" y2="655.2" stroke="#000" stroke-width="3" stroke-linecap="butt"/>
<text x="161.2" y="669" font-size="30.5" text-anchor="end" stroke="#000" stroke-width="0.45">600</text>
<line x1="166.4" y1="585.2" x2="171.5" y2="585.2" stroke="#000" stroke-width="3" stroke-linecap="butt"/>
<text x="161.2" y="599" font-size="30.5" text-anchor="end" stroke="#000" stroke-width="0.45">800</text>
<line x1="166.4" y1="515.2" x2="171.5" y2="515.2" stroke="#000" stroke-width="3" stroke-linecap="butt"/>
<text x="161.2" y="529" font-size="30.5" text-anchor="end" stroke="#000" stroke-width="0.45">1000</text>
<line x1="167.4" y1="830.2" x2="171.5" y2="830.2" stroke="#000" stroke-width="2.2" stroke-linecap="butt"/>
<line x1="167.4" y1="760.2" x2="171.5" y2="760.2" stroke="#000" stroke-width="2.2" stroke-linecap="butt"/>
<line x1="167.4" y1="690.2" x2="171.5" y2="690.2" stroke="#000" stroke-width="2.2" stroke-linecap="butt"/>
<line x1="167.4" y1="620.2" x2="171.5" y2="620.2" stroke="#000" stroke-width="2.2" stroke-linecap="butt"/>
<line x1="167.4" y1="550.2" x2="171.5" y2="550.2" stroke="#000" stroke-width="2.2" stroke-linecap="butt"/>
<line x1="193.2" y1="865.1" x2="193.2" y2="870.2" stroke="#000" stroke-width="3.5" stroke-linecap="butt"/>
<line x1="224.7" y1="865.1" x2="224.7" y2="870.2" stroke="#000" stroke-width="3.5" stroke-linecap="butt"/>
<line x1="257" y1="865.1" x2="257" y2="870.2" stroke="#000" stroke-width="3.5" stroke-linecap="butt"/>
<line x1="288.7" y1="865.1" x2="288.7" y2="870.2" stroke="#000" stroke-width="3.5" stroke-linecap="butt"/>
<line x1="321.1" y1="865.1" x2="321.1" y2="870.2" stroke="#000" stroke-width="3.5" stroke-linecap="butt"/>
<line x1="353.1" y1="865.1" x2="353.1" y2="870.2" stroke="#000" stroke-width="3.5" stroke-linecap="butt"/>
<line x1="407" y1="865.1" x2="407" y2="870.2" stroke="#000" stroke-width="3.5" stroke-linecap="butt"/>
<line x1="438.9" y1="865.1" x2="438.9" y2="870.2" stroke="#000" stroke-width="3.5" stroke-linecap="butt"/>
<line x1="471.1" y1="865.1" x2="471.1" y2="870.2" stroke="#000" stroke-width="3.5" stroke-linecap="butt"/>
<line x1="503.1" y1="865.1" x2="503.1" y2="870.2" stroke="#000" stroke-width="3.5" stroke-linecap="butt"/>
<line x1="535" y1="865.1" x2="535" y2="870.2" stroke="#000" stroke-width="3.5" stroke-linecap="butt"/>
<line x1="567.2" y1="865.1" x2="567.2" y2="870.2" stroke="#000" stroke-width="3.5" stroke-linecap="butt"/>
<text x="201.8" y="872.6" font-size="22.5" text-anchor="end" stroke="#000" stroke-width="0.45" transform="rotate(-90 201.8 872.6)">-7</text>
<text x="233.3" y="872.6" font-size="22.5" text-anchor="end" stroke="#000" stroke-width="0.45" transform="rotate(-90 233.3 872.6)">-2</text>
<text x="265.6" y="872.6" font-size="22.5" text-anchor="end" stroke="#000" stroke-width="0.45" transform="rotate(-90 265.6 872.6)">2</text>
<text x="297.3" y="872.6" font-size="22.5" text-anchor="end" stroke="#000" stroke-width="0.45" transform="rotate(-90 297.3 872.6)">14</text>
<text x="329.7" y="872.6" font-size="22.5" text-anchor="end" stroke="#000" stroke-width="0.45" transform="rotate(-90 329.7 872.6)">16</text>
<text x="361.7" y="872.6" font-size="22.5" text-anchor="end" stroke="#000" stroke-width="0.45" transform="rotate(-90 361.7 872.6)">21</text>
<text x="415.6" y="872.6" font-size="22.5" text-anchor="end" stroke="#000" stroke-width="0.45" transform="rotate(-90 415.6 872.6)">-7</text>
<text x="447.5" y="872.6" font-size="22.5" text-anchor="end" stroke="#000" stroke-width="0.45" transform="rotate(-90 447.5 872.6)">-2</text>
<text x="479.7" y="872.6" font-size="22.5" text-anchor="end" stroke="#000" stroke-width="0.45" transform="rotate(-90 479.7 872.6)">2</text>
<text x="511.7" y="872.6" font-size="22.5" text-anchor="end" stroke="#000" stroke-width="0.45" transform="rotate(-90 511.7 872.6)">14</text>
<text x="543.6" y="872.6" font-size="22.5" text-anchor="end" stroke="#000" stroke-width="0.45" transform="rotate(-90 543.6 872.6)">16</text>
<text x="575.8" y="872.6" font-size="22.5" text-anchor="end" stroke="#000" stroke-width="0.45" transform="rotate(-90 575.8 872.6)">21</text>
<text x="88.7" y="684.5" font-size="34.2" text-anchor="middle" stroke="#000" stroke-width="0.45" transform="rotate(-90 88.7 684.5)">ALP (U/L)</text>
<text x="379.8" y="952" font-size="34.2" text-anchor="middle" stroke="#000" stroke-width="0.45">Time Post-Dose (Day)</text>
<line x1="830.7" y1="526" x2="830.7" y2="863.6" stroke="#000" stroke-width="2" stroke-linecap="butt" stroke-dasharray="1.7,1.6"/>
<line x1="895.6" y1="526" x2="895.6" y2="863.6" stroke="#000" stroke-width="2" stroke-linecap="butt" stroke-dasharray="1.7,1.6"/>
<line x1="1049.3" y1="526" x2="1049.3" y2="863.6" stroke="#000" stroke-width="2" stroke-linecap="butt" stroke-dasharray="1.7,1.6"/>
<line x1="1114" y1="526" x2="1114" y2="863.6" stroke="#000" stroke-width="2" stroke-linecap="butt" stroke-dasharray="1.7,1.6"/>
<rect x="770.55" y="795.05" width="20.5" height="68.55" fill="#fff" stroke="#000" stroke-width="3.5"/>
<rect x="777.8" y="784.3" width="6" height="6" fill="none" stroke="#000" stroke-width="4.4"/>
<circle cx="780.8" cy="801" r="2.7" fill="none" stroke="#000" stroke-width="4"/>
<rect x="802.85" y="784.45" width="20.5" height="79.15" fill="#fff" stroke="#000" stroke-width="3.5"/>
<rect x="803.1" y="784.3" width="6" height="6" fill="none" stroke="#000" stroke-width="4.4"/>
<rect x="811.1" y="782" width="6" height="6" fill="none" stroke="#000" stroke-width="4.4"/>
<circle cx="821.5" cy="782.3" r="2.7" fill="none" stroke="#000" stroke-width="4"/>
<rect x="835.75" y="753.25" width="20.5" height="110.35" fill="#fff" stroke="#000" stroke-width="3.5"/>
<rect x="835.8" y="752.9" width="6" height="6" fill="none" stroke="#000" stroke-width="4.4"/>
<circle cx="854.3" cy="755.5" r="2.7" fill="none" stroke="#000" stroke-width="4"/>
<rect x="869.15" y="774.55" width="20.5" height="89.05" fill="#fff" stroke="#000" stroke-width="3.5"/>
<rect x="876.4" y="766.2" width="6" height="6" fill="none" stroke="#000" stroke-width="4.4"/>
<circle cx="879.4" cy="778.7" r="2.7" fill="none" stroke="#000" stroke-width="4"/>
<rect x="901.55" y="727.55" width="20.5" height="136.05" fill="#fff" stroke="#000" stroke-width="3.5"/>
<line x1="911.8" y1="710.8" x2="911.8" y2="725.8" stroke="#000" stroke-width="3.6" stroke-linecap="butt"/>
<line x1="906.8" y1="710.8" x2="916.8" y2="710.8" stroke="#000" stroke-width="3.6" stroke-linecap="butt"/>
<circle cx="911.8" cy="715.9" r="2.7" fill="none" stroke="#000" stroke-width="4"/>
<rect x="908.8" y="735.7" width="6" height="6" fill="none" stroke="#000" stroke-width="4.4"/>
<rect x="934.25" y="775.15" width="20.5" height="88.45" fill="#fff" stroke="#000" stroke-width="3.5"/>
<rect x="934.3" y="770.7" width="6" height="6" fill="none" stroke="#000" stroke-width="4.4"/>
<rect x="940.6" y="768.4" width="6" height="6" fill="none" stroke="#000" stroke-width="4.4"/>
<circle cx="953" cy="768" r="2.7" fill="none" stroke="#000" stroke-width="4"/>
<rect x="989.25" y="798.45" width="20.5" height="65.15" fill="#7c7d7f" stroke="#000" stroke-width="3.5"/>
<line x1="999.5" y1="770.7" x2="999.5" y2="820.7" stroke="#000" stroke-width="3.6" stroke-linecap="butt"/>
<line x1="994.5" y1="770.7" x2="1004.5" y2="770.7" stroke="#000" stroke-width="3.6" stroke-linecap="butt"/>
<line x1="994.5" y1="820.7" x2="1004.5" y2="820.7" stroke="#000" stroke-width="3.6" stroke-linecap="butt"/>
<circle cx="999.5" cy="776.3" r="3.8" fill="#000"/>
<rect x="995.7" y="810.6" width="7.6" height="7.6" fill="#000"/>
<rect x="1021.75" y="775.45" width="20.5" height="88.15" fill="#7c7d7f" stroke="#000" stroke-width="3.5"/>
<line x1="1032" y1="767.4" x2="1032" y2="780" stroke="#000" stroke-width="3.6" stroke-linecap="butt"/>
<line x1="1027" y1="767.4" x2="1037" y2="767.4" stroke="#000" stroke-width="3.6" stroke-linecap="butt"/>
<line x1="1027" y1="780" x2="1037" y2="780" stroke="#000" stroke-width="3.6" stroke-linecap="butt"/>
<circle cx="1032" cy="773" r="3.8" fill="#000"/>
<rect x="1028.2" y="772.2" width="7.6" height="7.6" fill="#000"/>
<rect x="1054.35" y="656.95" width="20.5" height="206.65" fill="#7c7d7f" stroke="#000" stroke-width="3.5"/>
<line x1="1064.6" y1="575.2" x2="1064.6" y2="734.4" stroke="#000" stroke-width="3.6" stroke-linecap="butt"/>
<line x1="1059.6" y1="575.2" x2="1069.6" y2="575.2" stroke="#000" stroke-width="3.6" stroke-linecap="butt"/>
<line x1="1059.6" y1="734.4" x2="1069.6" y2="734.4" stroke="#000" stroke-width="3.6" stroke-linecap="butt"/>
<circle cx="1064.6" cy="598.5" r="3.8" fill="#000"/>
<rect x="1060.8" y="706.6" width="7.6" height="7.6" fill="#000"/>
<rect x="1087.65" y="766.95" width="20.5" height="96.65" fill="#7c7d7f" stroke="#000" stroke-width="3.5"/>
<line x1="1097.9" y1="720" x2="1097.9" y2="808.5" stroke="#000" stroke-width="3.6" stroke-linecap="butt"/>
<line x1="1092.9" y1="720" x2="1102.9" y2="720" stroke="#000" stroke-width="3.6" stroke-linecap="butt"/>
<line x1="1092.9" y1="808.5" x2="1102.9" y2="808.5" stroke="#000" stroke-width="3.6" stroke-linecap="butt"/>
<circle cx="1097.9" cy="733" r="3.8" fill="#000"/>
<rect x="1094.1" y="792.2" width="7.6" height="7.6" fill="#000"/>
<rect x="1119.95" y="674.35" width="20.5" height="189.25" fill="#7c7d7f" stroke="#000" stroke-width="3.5"/>
<line x1="1130.2" y1="567.8" x2="1130.2" y2="777" stroke="#000" stroke-width="3.6" stroke-linecap="butt"/>
<line x1="1125.2" y1="567.8" x2="1135.2" y2="567.8" stroke="#000" stroke-width="3.6" stroke-linecap="butt"/>
<line x1="1125.2" y1="777" x2="1135.2" y2="777" stroke="#000" stroke-width="3.6" stroke-linecap="butt"/>
<circle cx="1130.2" cy="598.5" r="3.8" fill="#000"/>
<rect x="1126.4" y="742.9" width="7.6" height="7.6" fill="#000"/>
<rect x="1153.25" y="773.65" width="20.5" height="89.95" fill="#7c7d7f" stroke="#000" stroke-width="3.5"/>
<line x1="1163.5" y1="742.2" x2="1163.5" y2="800.4" stroke="#000" stroke-width="3.6" stroke-linecap="butt"/>
<line x1="1158.5" y1="742.2" x2="1168.5" y2="742.2" stroke="#000" stroke-width="3.6" stroke-linecap="butt"/>
<line x1="1158.5" y1="800.4" x2="1168.5" y2="800.4" stroke="#000" stroke-width="3.6" stroke-linecap="butt"/>
<circle cx="1163.5" cy="750.4" r="3.8" fill="#000"/>
<rect x="1159.7" y="787.2" width="7.6" height="7.6" fill="#000"/>
<line x1="758.5" y1="503" x2="758.5" y2="865.75" stroke="#000" stroke-width="4.3" stroke-linecap="butt"/>
<line x1="756.35" y1="863.6" x2="1185" y2="863.6" stroke="#000" stroke-width="4.3" stroke-linecap="butt"/>
<line x1="753.35" y1="863.6" x2="758.5" y2="863.6" stroke="#000" stroke-width="3" stroke-linecap="butt"/>
<text x="749.3" y="875.7" font-size="30.5" text-anchor="end" stroke="#000" stroke-width="0.45">0</text>
<line x1="753.35" y1="774" x2="758.5" y2="774" stroke="#000" stroke-width="3" stroke-linecap="butt"/>
<text x="749.3" y="786.1" font-size="30.5" text-anchor="end" stroke="#000" stroke-width="0.45">0.2</text>
<line x1="753.35" y1="684.4" x2="758.5" y2="684.4" stroke="#000" stroke-width="3" stroke-linecap="butt"/>
<text x="749.3" y="696.5" font-size="30.5" text-anchor="end" stroke="#000" stroke-width="0.45">0.4</text>
<line x1="753.35" y1="594.8" x2="758.5" y2="594.8" stroke="#000" stroke-width="3" stroke-linecap="butt"/>
<text x="749.3" y="606.9" font-size="30.5" text-anchor="end" stroke="#000" stroke-width="0.45">0.6</text>
<line x1="753.35" y1="505.2" x2="758.5" y2="505.2" stroke="#000" stroke-width="3" stroke-linecap="butt"/>
<text x="749.3" y="517.3" font-size="30.5" text-anchor="end" stroke="#000" stroke-width="0.45">0.8</text>
<line x1="754.35" y1="818.8" x2="758.5" y2="818.8" stroke="#000" stroke-width="2.2" stroke-linecap="butt"/>
<line x1="754.35" y1="729.2" x2="758.5" y2="729.2" stroke="#000" stroke-width="2.2" stroke-linecap="butt"/>
<line x1="754.35" y1="639.6" x2="758.5" y2="639.6" stroke="#000" stroke-width="2.2" stroke-linecap="butt"/>
<line x1="754.35" y1="550" x2="758.5" y2="550" stroke="#000" stroke-width="2.2" stroke-linecap="butt"/>
<line x1="780.8" y1="863.6" x2="780.8" y2="868.75" stroke="#000" stroke-width="3.5" stroke-linecap="butt"/>
<line x1="813.1" y1="863.6" x2="813.1" y2="868.75" stroke="#000" stroke-width="3.5" stroke-linecap="butt"/>
<line x1="846" y1="863.6" x2="846" y2="868.75" stroke="#000" stroke-width="3.5" stroke-linecap="butt"/>
<line x1="879.4" y1="863.6" x2="879.4" y2="868.75" stroke="#000" stroke-width="3.5" stroke-linecap="butt"/>
<line x1="911.8" y1="863.6" x2="911.8" y2="868.75" stroke="#000" stroke-width="3.5" stroke-linecap="butt"/>
<line x1="944.5" y1="863.6" x2="944.5" y2="868.75" stroke="#000" stroke-width="3.5" stroke-linecap="butt"/>
<line x1="999.5" y1="863.6" x2="999.5" y2="868.75" stroke="#000" stroke-width="3.5" stroke-linecap="butt"/>
<line x1="1032" y1="863.6" x2="1032" y2="868.75" stroke="#000" stroke-width="3.5" stroke-linecap="butt"/>
<line x1="1064.6" y1="863.6" x2="1064.6" y2="868.75" stroke="#000" stroke-width="3.5" stroke-linecap="butt"/>
<line x1="1097.9" y1="863.6" x2="1097.9" y2="868.75" stroke="#000" stroke-width="3.5" stroke-linecap="butt"/>
<line x1="1130.2" y1="863.6" x2="1130.2" y2="868.75" stroke="#000" stroke-width="3.5" stroke-linecap="butt"/>
<line x1="1163.5" y1="863.6" x2="1163.5" y2="868.75" stroke="#000" stroke-width="3.5" stroke-linecap="butt"/>
<text x="789.4" y="870.7" font-size="22.5" text-anchor="end" stroke="#000" stroke-width="0.45" transform="rotate(-90 789.4 870.7)">-7</text>
<text x="821.7" y="870.7" font-size="22.5" text-anchor="end" stroke="#000" stroke-width="0.45" transform="rotate(-90 821.7 870.7)">-2</text>
<text x="854.6" y="870.7" font-size="22.5" text-anchor="end" stroke="#000" stroke-width="0.45" transform="rotate(-90 854.6 870.7)">2</text>
<text x="888" y="870.7" font-size="22.5" text-anchor="end" stroke="#000" stroke-width="0.45" transform="rotate(-90 888 870.7)">14</text>
<text x="920.4" y="870.7" font-size="22.5" text-anchor="end" stroke="#000" stroke-width="0.45" transform="rotate(-90 920.4 870.7)">16</text>
<text x="953.1" y="870.7" font-size="22.5" text-anchor="end" stroke="#000" stroke-width="0.45" transform="rotate(-90 953.1 870.7)">21</text>
<text x="1008.1" y="870.7" font-size="22.5" text-anchor="end" stroke="#000" stroke-width="0.45" transform="rotate(-90 1008.1 870.7)">-7</text>
<text x="1040.6" y="870.7" font-size="22.5" text-anchor="end" stroke="#000" stroke-width="0.45" transform="rotate(-90 1040.6 870.7)">-2</text>
<text x="1073.2" y="870.7" font-size="22.5" text-anchor="end" stroke="#000" stroke-width="0.45" transform="rotate(-90 1073.2 870.7)">2</text>
<text x="1106.5" y="870.7" font-size="22.5" text-anchor="end" stroke="#000" stroke-width="0.45" transform="rotate(-90 1106.5 870.7)">14</text>
<text x="1138.8" y="870.7" font-size="22.5" text-anchor="end" stroke="#000" stroke-width="0.45" transform="rotate(-90 1138.8 870.7)">16</text>
<text x="1172.1" y="870.7" font-size="22.5" text-anchor="end" stroke="#000" stroke-width="0.45" transform="rotate(-90 1172.1 870.7)">21</text>
<text x="684.7" y="659.8" font-size="34.2" text-anchor="middle" stroke="#000" stroke-width="0.45" transform="rotate(-90 684.7 659.8)">TBIL (mg/dL)</text>
<text x="989" y="952" font-size="34.2" text-anchor="middle" stroke="#000" stroke-width="0.45">Time Post-Dose (Day)</text>
<line x1="198.4" y1="1087.5" x2="198.4" y2="1426.9" stroke="#000" stroke-width="2" stroke-linecap="butt" stroke-dasharray="1.7,1.6"/>
<line x1="290.9" y1="1087.5" x2="290.9" y2="1426.9" stroke="#000" stroke-width="2" stroke-linecap="butt" stroke-dasharray="1.7,1.6"/>
<line x1="403.6" y1="1087.5" x2="403.6" y2="1426.9" stroke="#000" stroke-width="2" stroke-linecap="butt" stroke-dasharray="1.7,1.6"/>
<line x1="495.2" y1="1087.5" x2="495.2" y2="1426.9" stroke="#000" stroke-width="2" stroke-linecap="butt" stroke-dasharray="1.7,1.6"/>
<rect x="172.4" y="1425.6" width="18.8" height="1.3" fill="#fff" stroke="#000" stroke-width="3.2"/>
<circle cx="174.5" cy="1425.5" r="3.3" fill="none" stroke="#000" stroke-width="5.4"/>
<rect x="184.3" y="1421.9" width="7.2" height="7.2" fill="none" stroke="#000" stroke-width="4.4"/>
<rect x="202.9" y="1345.1" width="18.8" height="81.8" fill="#fff" stroke="#000" stroke-width="3.2"/>
<line x1="212.3" y1="1261.5" x2="212.3" y2="1343.5" stroke="#000" stroke-width="4" stroke-linecap="butt"/>
<line x1="207.3" y1="1261.5" x2="217.3" y2="1261.5" stroke="#000" stroke-width="4.2" stroke-linecap="butt"/>
<circle cx="212.3" cy="1285.7" r="3.3" fill="none" stroke="#000" stroke-width="5.4"/>
<rect x="208.7" y="1399.2" width="7.2" height="7.2" fill="none" stroke="#000" stroke-width="4.4"/>
<rect x="234.1" y="1425.6" width="18.8" height="1.3" fill="#fff" stroke="#000" stroke-width="3.2"/>
<rect x="233.1" y="1420.4" width="7.2" height="7.2" fill="none" stroke="#000" stroke-width="4.4"/>
<circle cx="249.5" cy="1423" r="3.3" fill="none" stroke="#000" stroke-width="5.4"/>
<rect x="264.6" y="1425.6" width="18.8" height="1.3" fill="#fff" stroke="#000" stroke-width="3.2"/>
<rect x="264.1" y="1421.4" width="7.2" height="7.2" fill="none" stroke="#000" stroke-width="4.4"/>
<circle cx="280.5" cy="1425" r="3.3" fill="none" stroke="#000" stroke-width="5.4"/>
<rect x="295.5" y="1374.2" width="18.8" height="52.7" fill="#fff" stroke="#000" stroke-width="3.2"/>
<line x1="304.9" y1="1339.6" x2="304.9" y2="1372.6" stroke="#000" stroke-width="4" stroke-linecap="butt"/>
<line x1="299.9" y1="1339.6" x2="309.9" y2="1339.6" stroke="#000" stroke-width="4.2" stroke-linecap="butt"/>
<circle cx="304.9" cy="1348.8" r="3.3" fill="none" stroke="#000" stroke-width="5.4"/>
<rect x="301.3" y="1392.8" width="7.2" height="7.2" fill="none" stroke="#000" stroke-width="4.4"/>
<rect x="327.1" y="1425.6" width="18.8" height="1.3" fill="#fff" stroke="#000" stroke-width="3.2"/>
<rect x="326.9" y="1419.4" width="7.2" height="7.2" fill="none" stroke="#000" stroke-width="4.4"/>
<circle cx="342.5" cy="1422" r="3.3" fill="none" stroke="#000" stroke-width="5.4"/>
<rect x="377.5" y="1426.6" width="18.8" height="0.3" fill="#7c7d7f" stroke="#000" stroke-width="3.2"/>
<rect x="376.7" y="1421.3" width="8.4" height="8.4" fill="#000"/>
<circle cx="392.9" cy="1425.5" r="4.1" fill="#000"/>
<rect x="408.2" y="1344.4" width="18.8" height="82.5" fill="#7c7d7f" stroke="#000" stroke-width="3.2"/>
<line x1="417.6" y1="1243.8" x2="417.6" y2="1342.8" stroke="#000" stroke-width="4" stroke-linecap="butt"/>
<line x1="412.6" y1="1243.8" x2="422.6" y2="1243.8" stroke="#000" stroke-width="4.2" stroke-linecap="butt"/>
<circle cx="417.6" cy="1272.8" r="4.1" fill="#000"/>
<rect x="413.4" y="1409.8" width="8.4" height="8.4" fill="#000"/>
<rect x="439" y="1426.6" width="18.8" height="0.3" fill="#7c7d7f" stroke="#000" stroke-width="3.2"/>
<rect x="438.2" y="1421.3" width="8.4" height="8.4" fill="#000"/>
<circle cx="454.4" cy="1425.5" r="4.1" fill="#000"/>
<rect x="470.8" y="1426.6" width="18.8" height="0.3" fill="#7c7d7f" stroke="#000" stroke-width="3.2"/>
<rect x="470" y="1420.3" width="8.4" height="8.4" fill="#000"/>
<circle cx="486.2" cy="1424.5" r="4.1" fill="#000"/>
<rect x="500.7" y="1321.1" width="18.8" height="105.8" fill="#7c7d7f" stroke="#000" stroke-width="3.2"/>
<line x1="510.1" y1="1178.8" x2="510.1" y2="1319.5" stroke="#000" stroke-width="4" stroke-linecap="butt"/>
<line x1="505.1" y1="1178.8" x2="515.1" y2="1178.8" stroke="#000" stroke-width="4.2" stroke-linecap="butt"/>
<circle cx="510.1" cy="1220.3" r="4.1" fill="#000"/>
<rect x="505.9" y="1415.8" width="8.4" height="8.4" fill="#000"/>
<rect x="531.5" y="1417.3" width="18.8" height="9.6" fill="#7c7d7f" stroke="#000" stroke-width="3.2"/>
<rect x="530.4" y="1414.8" width="8.4" height="8.4" fill="#000"/>
<circle cx="546.4" cy="1417" r="4.1" fill="#000"/>
<line x1="161" y1="1087.5" x2="161" y2="1429.2" stroke="#000" stroke-width="4.6" stroke-linecap="butt"/>
<line x1="158.7" y1="1426.9" x2="562.7" y2="1426.9" stroke="#000" stroke-width="4.6" stroke-linecap="butt"/>
<line x1="155.7" y1="1426.9" x2="161" y2="1426.9" stroke="#000" stroke-width="3" stroke-linecap="butt"/>
<text x="149.2" y="1437.4" font-size="30.5" text-anchor="end" stroke="#000" stroke-width="0.45">0</text>
<line x1="155.7" y1="1342.35" x2="161" y2="1342.35" stroke="#000" stroke-width="3" stroke-linecap="butt"/>
<text x="149.2" y="1352.85" font-size="30.5" text-anchor="end" stroke="#000" stroke-width="0.45">100</text>
<line x1="155.7" y1="1257.8" x2="161" y2="1257.8" stroke="#000" stroke-width="3" stroke-linecap="butt"/>
<text x="149.2" y="1268.3" font-size="30.5" text-anchor="end" stroke="#000" stroke-width="0.45">200</text>
<line x1="155.7" y1="1173.25" x2="161" y2="1173.25" stroke="#000" stroke-width="3" stroke-linecap="butt"/>
<text x="149.2" y="1183.75" font-size="30.5" text-anchor="end" stroke="#000" stroke-width="0.45">300</text>
<line x1="155.7" y1="1088.7" x2="161" y2="1088.7" stroke="#000" stroke-width="3" stroke-linecap="butt"/>
<text x="149.2" y="1099.2" font-size="30.5" text-anchor="end" stroke="#000" stroke-width="0.45">400</text>
<line x1="181.8" y1="1426.9" x2="181.8" y2="1432.2" stroke="#000" stroke-width="3.5" stroke-linecap="butt"/>
<line x1="212.3" y1="1426.9" x2="212.3" y2="1432.2" stroke="#000" stroke-width="3.5" stroke-linecap="butt"/>
<line x1="243.5" y1="1426.9" x2="243.5" y2="1432.2" stroke="#000" stroke-width="3.5" stroke-linecap="butt"/>
<line x1="274" y1="1426.9" x2="274" y2="1432.2" stroke="#000" stroke-width="3.5" stroke-linecap="butt"/>
<line x1="304.9" y1="1426.9" x2="304.9" y2="1432.2" stroke="#000" stroke-width="3.5" stroke-linecap="butt"/>
<line x1="336.5" y1="1426.9" x2="336.5" y2="1432.2" stroke="#000" stroke-width="3.5" stroke-linecap="butt"/>
<line x1="386.9" y1="1426.9" x2="386.9" y2="1432.2" stroke="#000" stroke-width="3.5" stroke-linecap="butt"/>
<line x1="417.6" y1="1426.9" x2="417.6" y2="1432.2" stroke="#000" stroke-width="3.5" stroke-linecap="butt"/>
<line x1="448.4" y1="1426.9" x2="448.4" y2="1432.2" stroke="#000" stroke-width="3.5" stroke-linecap="butt"/>
<line x1="480.2" y1="1426.9" x2="480.2" y2="1432.2" stroke="#000" stroke-width="3.5" stroke-linecap="butt"/>
<line x1="510.1" y1="1426.9" x2="510.1" y2="1432.2" stroke="#000" stroke-width="3.5" stroke-linecap="butt"/>
<line x1="540.9" y1="1426.9" x2="540.9" y2="1432.2" stroke="#000" stroke-width="3.5" stroke-linecap="butt"/>
<text x="188.86" y="1437.8" font-size="22.4" text-anchor="end" stroke="#000" stroke-width="0.45" transform="rotate(-90 188.86 1437.8)">Day -2</text>
<text x="219.36" y="1437.8" font-size="22.4" text-anchor="end" stroke="#000" stroke-width="0.45" transform="rotate(-90 219.36 1437.8)">Day 1-6hr</text>
<text x="250.56" y="1437.8" font-size="22.4" text-anchor="end" stroke="#000" stroke-width="0.45" transform="rotate(-90 250.56 1437.8)">Day 2</text>
<text x="281.06" y="1437.8" font-size="22.4" text-anchor="end" stroke="#000" stroke-width="0.45" transform="rotate(-90 281.06 1437.8)">Day 15-Pre</text>
<text x="311.96" y="1437.8" font-size="22.4" text-anchor="end" stroke="#000" stroke-width="0.45" transform="rotate(-90 311.96 1437.8)">Day 15-6hr</text>
<text x="343.56" y="1437.8" font-size="22.4" text-anchor="end" stroke="#000" stroke-width="0.45" transform="rotate(-90 343.56 1437.8)">Day 16</text>
<text x="393.96" y="1437.8" font-size="22.4" text-anchor="end" stroke="#000" stroke-width="0.45" transform="rotate(-90 393.96 1437.8)">Day  -2</text>
<text x="424.66" y="1437.8" font-size="22.4" text-anchor="end" stroke="#000" stroke-width="0.45" transform="rotate(-90 424.66 1437.8)">Day 1-6hr</text>
<text x="455.46" y="1437.8" font-size="22.4" text-anchor="end" stroke="#000" stroke-width="0.45" transform="rotate(-90 455.46 1437.8)">Day 2</text>
<text x="487.26" y="1437.8" font-size="22.4" text-anchor="end" stroke="#000" stroke-width="0.45" transform="rotate(-90 487.26 1437.8)">Day 15-Pre</text>
<text x="517.16" y="1437.8" font-size="22.4" text-anchor="end" stroke="#000" stroke-width="0.45" transform="rotate(-90 517.16 1437.8)">Day 15-6hr</text>
<text x="547.96" y="1437.8" font-size="22.4" text-anchor="end" stroke="#000" stroke-width="0.45" transform="rotate(-90 547.96 1437.8)">Day 16</text>
<text x="83.8" y="1259.5" font-size="34.2" text-anchor="middle" stroke="#000" stroke-width="0.45" transform="rotate(-90 83.8 1259.5)">IL-6 (pg/mL)</text>
<line x1="788.6" y1="1085" x2="788.6" y2="1424.6" stroke="#000" stroke-width="2" stroke-linecap="butt" stroke-dasharray="1.7,1.6"/>
<line x1="881.3" y1="1085" x2="881.3" y2="1424.6" stroke="#000" stroke-width="2" stroke-linecap="butt" stroke-dasharray="1.7,1.6"/>
<line x1="993.7" y1="1085" x2="993.7" y2="1424.6" stroke="#000" stroke-width="2" stroke-linecap="butt" stroke-dasharray="1.7,1.6"/>
<line x1="1086.3" y1="1085" x2="1086.3" y2="1424.6" stroke="#000" stroke-width="2" stroke-linecap="butt" stroke-dasharray="1.7,1.6"/>
<rect x="763.85" y="1337.15" width="18.7" height="87.45" fill="#fff" stroke="#000" stroke-width="3.3"/>
<rect x="763.8" y="1334.1" width="6.8" height="6.8" fill="none" stroke="#000" stroke-width="4.4"/>
<circle cx="779.2" cy="1337.5" r="3.3" fill="none" stroke="#000" stroke-width="4.6"/>
<rect x="795.05" y="1320.65" width="18.7" height="103.95" fill="#fff" stroke="#000" stroke-width="3.3"/>
<line x1="804.4" y1="1292.4" x2="804.4" y2="1319" stroke="#000" stroke-width="3.8" stroke-linecap="butt"/>
<line x1="799.4" y1="1292.4" x2="809.4" y2="1292.4" stroke="#000" stroke-width="4" stroke-linecap="butt"/>
<circle cx="804.4" cy="1300.6" r="3.3" fill="none" stroke="#000" stroke-width="4.6"/>
<rect x="801" y="1334.1" width="6.8" height="6.8" fill="none" stroke="#000" stroke-width="4.4"/>
<rect x="826.05" y="1326.85" width="18.7" height="97.75" fill="#fff" stroke="#000" stroke-width="3.3"/>
<rect x="832" y="1313.6" width="6.8" height="6.8" fill="none" stroke="#000" stroke-width="4.4"/>
<circle cx="835.4" cy="1332.6" r="3.3" fill="none" stroke="#000" stroke-width="4.6"/>
<rect x="857.15" y="1337.15" width="18.7" height="87.45" fill="#fff" stroke="#000" stroke-width="3.3"/>
<rect x="857.1" y="1334.1" width="6.8" height="6.8" fill="none" stroke="#000" stroke-width="4.4"/>
<circle cx="872.5" cy="1337.5" r="3.3" fill="none" stroke="#000" stroke-width="4.6"/>
<rect x="887.95" y="1315.45" width="18.7" height="109.15" fill="#fff" stroke="#000" stroke-width="3.3"/>
<line x1="897.3" y1="1286.3" x2="897.3" y2="1313.8" stroke="#000" stroke-width="3.8" stroke-linecap="butt"/>
<line x1="892.3" y1="1286.3" x2="902.3" y2="1286.3" stroke="#000" stroke-width="4" stroke-linecap="butt"/>
<rect x="893.9" y="1291.1" width="6.8" height="6.8" fill="none" stroke="#000" stroke-width="4.4"/>
<circle cx="897.3" cy="1333.4" r="3.3" fill="none" stroke="#000" stroke-width="4.6"/>
<rect x="918.65" y="1326.85" width="18.7" height="97.75" fill="#fff" stroke="#000" stroke-width="3.3"/>
<line x1="928" y1="1308.8" x2="928" y2="1325.2" stroke="#000" stroke-width="3.8" stroke-linecap="butt"/>
<line x1="923" y1="1308.8" x2="933" y2="1308.8" stroke="#000" stroke-width="4" stroke-linecap="butt"/>
<circle cx="928" cy="1313" r="3.3" fill="none" stroke="#000" stroke-width="4.6"/>
<rect x="924.6" y="1334.1" width="6.8" height="6.8" fill="none" stroke="#000" stroke-width="4.4"/>
<rect x="970.35" y="1338.35" width="18.7" height="86.25" fill="#7c7d7f" stroke="#000" stroke-width="3.3"/>
<rect x="970.6" y="1333.9" width="8.2" height="8.2" fill="#000"/>
<circle cx="984.7" cy="1338" r="4.1" fill="#000"/>
<rect x="1001.15" y="1312.95" width="18.7" height="111.65" fill="#7c7d7f" stroke="#000" stroke-width="3.3"/>
<line x1="1010.5" y1="1273.2" x2="1010.5" y2="1311.3" stroke="#000" stroke-width="3.8" stroke-linecap="butt"/>
<line x1="1005.5" y1="1273.2" x2="1015.5" y2="1273.2" stroke="#000" stroke-width="4" stroke-linecap="butt"/>
<circle cx="1010.5" cy="1284.2" r="4.1" fill="#000"/>
<rect x="1006.4" y="1333.4" width="8.2" height="8.2" fill="#000"/>
<rect x="1032.15" y="1307.65" width="18.7" height="116.95" fill="#7c7d7f" stroke="#000" stroke-width="3.3"/>
<line x1="1041.5" y1="1259.6" x2="1041.5" y2="1306" stroke="#000" stroke-width="3.8" stroke-linecap="butt"/>
<line x1="1036.5" y1="1259.6" x2="1046.5" y2="1259.6" stroke="#000" stroke-width="4" stroke-linecap="butt"/>
<circle cx="1041.5" cy="1272.8" r="4.1" fill="#000"/>
<rect x="1037.4" y="1333.4" width="8.2" height="8.2" fill="#000"/>
<rect x="1063.65" y="1338.35" width="18.7" height="86.25" fill="#7c7d7f" stroke="#000" stroke-width="3.3"/>
<rect x="1063.9" y="1333.9" width="8.2" height="8.2" fill="#000"/>
<circle cx="1078" cy="1338" r="4.1" fill="#000"/>
<rect x="1094.35" y="1283.05" width="18.7" height="141.55" fill="#7c7d7f" stroke="#000" stroke-width="3.3"/>
<line x1="1103.7" y1="1200.2" x2="1103.7" y2="1281.4" stroke="#000" stroke-width="3.8" stroke-linecap="butt"/>
<line x1="1098.7" y1="1200.2" x2="1108.7" y2="1200.2" stroke="#000" stroke-width="4" stroke-linecap="butt"/>
<circle cx="1103.7" cy="1224" r="4.1" fill="#000"/>
<rect x="1099.6" y="1333.4" width="8.2" height="8.2" fill="#000"/>
<rect x="1125.15" y="1235.85" width="18.7" height="188.75" fill="#7c7d7f" stroke="#000" stroke-width="3.3"/>
<line x1="1134.5" y1="1164" x2="1134.5" y2="1234.2" stroke="#000" stroke-width="3.8" stroke-linecap="butt"/>
<line x1="1129.5" y1="1164" x2="1139.5" y2="1164" stroke="#000" stroke-width="4" stroke-linecap="butt"/>
<circle cx="1134.5" cy="1184.6" r="4.1" fill="#000"/>
<rect x="1130.4" y="1278.9" width="8.2" height="8.2" fill="#000"/>
<line x1="752.8" y1="1084" x2="752.8" y2="1426.85" stroke="#000" stroke-width="4.5" stroke-linecap="butt"/>
<line x1="750.55" y1="1424.6" x2="1155.6" y2="1424.6" stroke="#000" stroke-width="4.5" stroke-linecap="butt"/>
<line x1="747.55" y1="1424.6" x2="752.8" y2="1424.6" stroke="#000" stroke-width="3" stroke-linecap="butt"/>
<text x="746.3" y="1435.7" font-size="30.8" text-anchor="end" stroke="#000" stroke-width="0.45">0</text>
<line x1="747.55" y1="1339.8" x2="752.8" y2="1339.8" stroke="#000" stroke-width="3" stroke-linecap="butt"/>
<text x="746.3" y="1350.9" font-size="30.8" text-anchor="end" stroke="#000" stroke-width="0.45">10</text>
<line x1="747.55" y1="1255" x2="752.8" y2="1255" stroke="#000" stroke-width="3" stroke-linecap="butt"/>
<text x="746.3" y="1266.1" font-size="30.8" text-anchor="end" stroke="#000" stroke-width="0.45">20</text>
<line x1="747.55" y1="1170.2" x2="752.8" y2="1170.2" stroke="#000" stroke-width="3" stroke-linecap="butt"/>
<text x="746.3" y="1181.3" font-size="30.8" text-anchor="end" stroke="#000" stroke-width="0.45">30</text>
<line x1="747.55" y1="1085.4" x2="752.8" y2="1085.4" stroke="#000" stroke-width="3" stroke-linecap="butt"/>
<text x="746.3" y="1096.5" font-size="30.8" text-anchor="end" stroke="#000" stroke-width="0.45">40</text>
<line x1="773.2" y1="1424.6" x2="773.2" y2="1429.85" stroke="#000" stroke-width="3.5" stroke-linecap="butt"/>
<line x1="804.4" y1="1424.6" x2="804.4" y2="1429.85" stroke="#000" stroke-width="3.5" stroke-linecap="butt"/>
<line x1="835.4" y1="1424.6" x2="835.4" y2="1429.85" stroke="#000" stroke-width="3.5" stroke-linecap="butt"/>
<line x1="866.5" y1="1424.6" x2="866.5" y2="1429.85" stroke="#000" stroke-width="3.5" stroke-linecap="butt"/>
<line x1="897.3" y1="1424.6" x2="897.3" y2="1429.85" stroke="#000" stroke-width="3.5" stroke-linecap="butt"/>
<line x1="928" y1="1424.6" x2="928" y2="1429.85" stroke="#000" stroke-width="3.5" stroke-linecap="butt"/>
<line x1="979.7" y1="1424.6" x2="979.7" y2="1429.85" stroke="#000" stroke-width="3.5" stroke-linecap="butt"/>
<line x1="1010.5" y1="1424.6" x2="1010.5" y2="1429.85" stroke="#000" stroke-width="3.5" stroke-linecap="butt"/>
<line x1="1041.5" y1="1424.6" x2="1041.5" y2="1429.85" stroke="#000" stroke-width="3.5" stroke-linecap="butt"/>
<line x1="1073" y1="1424.6" x2="1073" y2="1429.85" stroke="#000" stroke-width="3.5" stroke-linecap="butt"/>
<line x1="1103.7" y1="1424.6" x2="1103.7" y2="1429.85" stroke="#000" stroke-width="3.5" stroke-linecap="butt"/>
<line x1="1134.5" y1="1424.6" x2="1134.5" y2="1429.85" stroke="#000" stroke-width="3.5" stroke-linecap="butt"/>
<text x="778.46" y="1435.9" font-size="22.4" text-anchor="end" stroke="#000" stroke-width="0.45" transform="rotate(-90 778.46 1435.9)">Day -2</text>
<text x="809.66" y="1435.9" font-size="22.4" text-anchor="end" stroke="#000" stroke-width="0.45" transform="rotate(-90 809.66 1435.9)">Day 1-6hr</text>
<text x="840.66" y="1435.9" font-size="22.4" text-anchor="end" stroke="#000" stroke-width="0.45" transform="rotate(-90 840.66 1435.9)">Day 2</text>
<text x="871.76" y="1435.9" font-size="22.4" text-anchor="end" stroke="#000" stroke-width="0.45" transform="rotate(-90 871.76 1435.9)">Day 15-Pre</text>
<text x="902.56" y="1435.9" font-size="22.4" text-anchor="end" stroke="#000" stroke-width="0.45" transform="rotate(-90 902.56 1435.9)">Day 15-6hr</text>
<text x="933.26" y="1435.9" font-size="22.4" text-anchor="end" stroke="#000" stroke-width="0.45" transform="rotate(-90 933.26 1435.9)">Day 16</text>
<text x="984.96" y="1435.9" font-size="22.4" text-anchor="end" stroke="#000" stroke-width="0.45" transform="rotate(-90 984.96 1435.9)">Day  -2</text>
<text x="1015.76" y="1435.9" font-size="22.4" text-anchor="end" stroke="#000" stroke-width="0.45" transform="rotate(-90 1015.76 1435.9)">Day 1-6hr</text>
<text x="1046.76" y="1435.9" font-size="22.4" text-anchor="end" stroke="#000" stroke-width="0.45" transform="rotate(-90 1046.76 1435.9)">Day 2</text>
<text x="1078.26" y="1435.9" font-size="22.4" text-anchor="end" stroke="#000" stroke-width="0.45" transform="rotate(-90 1078.26 1435.9)">Day 15-Pre</text>
<text x="1108.96" y="1435.9" font-size="22.4" text-anchor="end" stroke="#000" stroke-width="0.45" transform="rotate(-90 1108.96 1435.9)">Day 15-6hr</text>
<text x="1139.76" y="1435.9" font-size="22.4" text-anchor="end" stroke="#000" stroke-width="0.45" transform="rotate(-90 1139.76 1435.9)">Day 16</text>
<text x="694.8" y="1235.5" font-size="34.2" text-anchor="middle" stroke="#000" stroke-width="0.45" transform="rotate(-90 694.8 1235.5)">IFN-α2A (pg/mL)</text>
<text x="1160.5" y="1344.8" font-size="16" stroke="#000" stroke-width="0.3">LLOQ</text>
<line x1="198.9" y1="1605.4" x2="198.9" y2="1944.5" stroke="#000" stroke-width="2" stroke-linecap="butt" stroke-dasharray="1.7,1.6"/>
<line x1="292" y1="1605.4" x2="292" y2="1944.5" stroke="#000" stroke-width="2" stroke-linecap="butt" stroke-dasharray="1.7,1.6"/>
<line x1="404" y1="1605.4" x2="404" y2="1944.5" stroke="#000" stroke-width="2" stroke-linecap="butt" stroke-dasharray="1.7,1.6"/>
<line x1="496.2" y1="1605.4" x2="496.2" y2="1944.5" stroke="#000" stroke-width="2" stroke-linecap="butt" stroke-dasharray="1.7,1.6"/>
<line x1="165" y1="1921.6" x2="563" y2="1921.6" stroke="#b0b0b0" stroke-width="1.5" stroke-linecap="butt" stroke-dasharray="3,3"/>
<rect x="173.65" y="1922.25" width="18.5" height="22.25" fill="#fff" stroke="#000" stroke-width="3.5"/>
<rect x="173" y="1920" width="6.4" height="6.4" fill="none" stroke="#000" stroke-width="4.4"/>
<circle cx="189.8" cy="1923.2" r="3.2" fill="none" stroke="#000" stroke-width="4.4"/>
<rect x="204.15" y="1922.25" width="18.5" height="22.25" fill="#fff" stroke="#000" stroke-width="3.5"/>
<rect x="203.5" y="1920" width="6.4" height="6.4" fill="none" stroke="#000" stroke-width="4.4"/>
<circle cx="220.3" cy="1923.2" r="3.2" fill="none" stroke="#000" stroke-width="4.4"/>
<rect x="235.15" y="1919.25" width="18.5" height="25.25" fill="#fff" stroke="#000" stroke-width="3.5"/>
<line x1="244.4" y1="1908" x2="244.4" y2="1917.5" stroke="#000" stroke-width="2.8" stroke-linecap="butt"/>
<line x1="239.4" y1="1908" x2="249.4" y2="1908" stroke="#000" stroke-width="3.5" stroke-linecap="butt"/>
<rect x="241.2" y="1908.8" width="6.4" height="6.4" fill="none" stroke="#000" stroke-width="4.4"/>
<circle cx="244.4" cy="1924" r="3.2" fill="none" stroke="#000" stroke-width="4.4"/>
<rect x="266.15" y="1922.25" width="18.5" height="22.25" fill="#fff" stroke="#000" stroke-width="3.5"/>
<rect x="265.5" y="1920" width="6.4" height="6.4" fill="none" stroke="#000" stroke-width="4.4"/>
<circle cx="282.3" cy="1923.2" r="3.2" fill="none" stroke="#000" stroke-width="4.4"/>
<rect x="296.65" y="1922.25" width="18.5" height="22.25" fill="#fff" stroke="#000" stroke-width="3.5"/>
<rect x="296" y="1920" width="6.4" height="6.4" fill="none" stroke="#000" stroke-width="4.4"/>
<circle cx="312.8" cy="1923.2" r="3.2" fill="none" stroke="#000" stroke-width="4.4"/>
<rect x="327.75" y="1922.25" width="18.5" height="22.25" fill="#fff" stroke="#000" stroke-width="3.5"/>
<rect x="327.1" y="1920" width="6.4" height="6.4" fill="none" stroke="#000" stroke-width="4.4"/>
<circle cx="343.9" cy="1923.2" r="3.2" fill="none" stroke="#000" stroke-width="4.4"/>
<rect x="379.45" y="1922.15" width="18.5" height="22.35" fill="#7c7d7f" stroke="#000" stroke-width="3.5"/>
<rect x="378.2" y="1918.8" width="8.4" height="8.4" fill="#000"/>
<circle cx="395" cy="1923" r="4.2" fill="#000"/>
<rect x="409.95" y="1922.15" width="18.5" height="22.35" fill="#7c7d7f" stroke="#000" stroke-width="3.5"/>
<rect x="408.7" y="1918.8" width="8.4" height="8.4" fill="#000"/>
<circle cx="425.5" cy="1923" r="4.2" fill="#000"/>
<rect x="440.75" y="1922.15" width="18.5" height="22.35" fill="#7c7d7f" stroke="#000" stroke-width="3.5"/>
<rect x="439.5" y="1918.8" width="8.4" height="8.4" fill="#000"/>
<circle cx="456.3" cy="1923" r="4.2" fill="#000"/>
<rect x="472.05" y="1916.85" width="18.5" height="27.65" fill="#7c7d7f" stroke="#000" stroke-width="3.5"/>
<polygon points="475.8,1905.2 486.8,1905.2 483.5,1915 479.1,1915" fill="#000"/>
<circle cx="481.3" cy="1923.4" r="4.2" fill="#000"/>
<rect x="502.55" y="1922.15" width="18.5" height="22.35" fill="#7c7d7f" stroke="#000" stroke-width="3.5"/>
<rect x="501.3" y="1918.8" width="8.4" height="8.4" fill="#000"/>
<circle cx="518.1" cy="1923" r="4.2" fill="#000"/>
<rect x="533.55" y="1918.25" width="18.5" height="26.25" fill="#7c7d7f" stroke="#000" stroke-width="3.5"/>
<polygon points="537.3,1908.5 548.3,1908.5 545,1916.5 540.6,1916.5" fill="#000"/>
<rect x="538.6" y="1919.2" width="8.4" height="8.4" fill="#000"/>
<line x1="162.2" y1="1604.6" x2="162.2" y2="1946.75" stroke="#000" stroke-width="4.5" stroke-linecap="butt"/>
<line x1="159.95" y1="1944.5" x2="563.8" y2="1944.5" stroke="#000" stroke-width="4.5" stroke-linecap="butt"/>
<line x1="156.95" y1="1944.5" x2="162.2" y2="1944.5" stroke="#000" stroke-width="3" stroke-linecap="butt"/>
<text x="152" y="1955.3" font-size="30.5" text-anchor="end" stroke="#000" stroke-width="0.45">0</text>
<line x1="156.95" y1="1860.05" x2="162.2" y2="1860.05" stroke="#000" stroke-width="3" stroke-linecap="butt"/>
<text x="152" y="1870.85" font-size="30.5" text-anchor="end" stroke="#000" stroke-width="0.45">5</text>
<line x1="156.95" y1="1775.6" x2="162.2" y2="1775.6" stroke="#000" stroke-width="3" stroke-linecap="butt"/>
<text x="152" y="1786.4" font-size="30.5" text-anchor="end" stroke="#000" stroke-width="0.45">10</text>
<line x1="156.95" y1="1691.15" x2="162.2" y2="1691.15" stroke="#000" stroke-width="3" stroke-linecap="butt"/>
<text x="152" y="1701.95" font-size="30.5" text-anchor="end" stroke="#000" stroke-width="0.45">15</text>
<line x1="156.95" y1="1606.7" x2="162.2" y2="1606.7" stroke="#000" stroke-width="3" stroke-linecap="butt"/>
<text x="152" y="1617.5" font-size="30.5" text-anchor="end" stroke="#000" stroke-width="0.45">20</text>
<line x1="182.9" y1="1944.5" x2="182.9" y2="1949.75" stroke="#000" stroke-width="3.5" stroke-linecap="butt"/>
<line x1="213.4" y1="1944.5" x2="213.4" y2="1949.75" stroke="#000" stroke-width="3.5" stroke-linecap="butt"/>
<line x1="244.4" y1="1944.5" x2="244.4" y2="1949.75" stroke="#000" stroke-width="3.5" stroke-linecap="butt"/>
<line x1="275.4" y1="1944.5" x2="275.4" y2="1949.75" stroke="#000" stroke-width="3.5" stroke-linecap="butt"/>
<line x1="305.9" y1="1944.5" x2="305.9" y2="1949.75" stroke="#000" stroke-width="3.5" stroke-linecap="butt"/>
<line x1="337" y1="1944.5" x2="337" y2="1949.75" stroke="#000" stroke-width="3.5" stroke-linecap="butt"/>
<line x1="388.7" y1="1944.5" x2="388.7" y2="1949.75" stroke="#000" stroke-width="3.5" stroke-linecap="butt"/>
<line x1="419.2" y1="1944.5" x2="419.2" y2="1949.75" stroke="#000" stroke-width="3.5" stroke-linecap="butt"/>
<line x1="450" y1="1944.5" x2="450" y2="1949.75" stroke="#000" stroke-width="3.5" stroke-linecap="butt"/>
<line x1="481.3" y1="1944.5" x2="481.3" y2="1949.75" stroke="#000" stroke-width="3.5" stroke-linecap="butt"/>
<line x1="511.8" y1="1944.5" x2="511.8" y2="1949.75" stroke="#000" stroke-width="3.5" stroke-linecap="butt"/>
<line x1="542.8" y1="1944.5" x2="542.8" y2="1949.75" stroke="#000" stroke-width="3.5" stroke-linecap="butt"/>
<text x="187.46" y="1956.5" font-size="22.4" text-anchor="end" stroke="#000" stroke-width="0.45" transform="rotate(-90 187.46 1956.5)">Day -2</text>
<text x="217.96" y="1956.5" font-size="22.4" text-anchor="end" stroke="#000" stroke-width="0.45" transform="rotate(-90 217.96 1956.5)">Day 1-6hr</text>
<text x="248.96" y="1956.5" font-size="22.4" text-anchor="end" stroke="#000" stroke-width="0.45" transform="rotate(-90 248.96 1956.5)">Day 2</text>
<text x="279.96" y="1956.5" font-size="22.4" text-anchor="end" stroke="#000" stroke-width="0.45" transform="rotate(-90 279.96 1956.5)">Day 15-Pre</text>
<text x="310.46" y="1956.5" font-size="22.4" text-anchor="end" stroke="#000" stroke-width="0.45" transform="rotate(-90 310.46 1956.5)">Day 15-6hr</text>
<text x="341.56" y="1956.5" font-size="22.4" text-anchor="end" stroke="#000" stroke-width="0.45" transform="rotate(-90 341.56 1956.5)">Day 16</text>
<text x="393.26" y="1956.5" font-size="22.4" text-anchor="end" stroke="#000" stroke-width="0.45" transform="rotate(-90 393.26 1956.5)">Day  -2</text>
<text x="423.76" y="1956.5" font-size="22.4" text-anchor="end" stroke="#000" stroke-width="0.45" transform="rotate(-90 423.76 1956.5)">Day 1-6hr</text>
<text x="454.56" y="1956.5" font-size="22.4" text-anchor="end" stroke="#000" stroke-width="0.45" transform="rotate(-90 454.56 1956.5)">Day 2</text>
<text x="485.86" y="1956.5" font-size="22.4" text-anchor="end" stroke="#000" stroke-width="0.45" transform="rotate(-90 485.86 1956.5)">Day 15-Pre</text>
<text x="516.36" y="1956.5" font-size="22.4" text-anchor="end" stroke="#000" stroke-width="0.45" transform="rotate(-90 516.36 1956.5)">Day 15-6hr</text>
<text x="547.36" y="1956.5" font-size="22.4" text-anchor="end" stroke="#000" stroke-width="0.45" transform="rotate(-90 547.36 1956.5)">Day 16</text>
<text x="98.8" y="1778.4" font-size="34.2" text-anchor="middle" stroke="#000" stroke-width="0.45" transform="rotate(-90 98.8 1778.4)">IL-1β (pg/mL)</text>
<text x="569.5" y="1943.3" font-size="16" stroke="#000" stroke-width="0.3">LLOQ</text>
<line x1="781.7" y1="1606.7" x2="781.7" y2="1948.5" stroke="#000" stroke-width="2" stroke-linecap="butt" stroke-dasharray="1.7,1.6"/>
<line x1="873.9" y1="1606.7" x2="873.9" y2="1948.5" stroke="#000" stroke-width="2" stroke-linecap="butt" stroke-dasharray="1.7,1.6"/>
<line x1="986.3" y1="1606.7" x2="986.3" y2="1948.5" stroke="#000" stroke-width="2" stroke-linecap="butt" stroke-dasharray="1.7,1.6"/>
<line x1="1078.5" y1="1606.7" x2="1078.5" y2="1948.5" stroke="#000" stroke-width="2" stroke-linecap="butt" stroke-dasharray="1.7,1.6"/>
<line x1="745" y1="1932.6" x2="1146" y2="1932.6" stroke="#b0b0b0" stroke-width="1.5" stroke-linecap="butt" stroke-dasharray="3,3"/>
<rect x="755.25" y="1932.75" width="18.5" height="15.75" fill="#fff" stroke="#000" stroke-width="3.5"/>
<rect x="754.5" y="1930.5" width="6.4" height="6.4" fill="none" stroke="#000" stroke-width="4.4"/>
<circle cx="771.4" cy="1933.7" r="3.2" fill="none" stroke="#000" stroke-width="4.4"/>
<rect x="785.25" y="1932.75" width="18.5" height="15.75" fill="#fff" stroke="#000" stroke-width="3.5"/>
<rect x="784.5" y="1930.5" width="6.4" height="6.4" fill="none" stroke="#000" stroke-width="4.4"/>
<circle cx="801.4" cy="1933.7" r="3.2" fill="none" stroke="#000" stroke-width="4.4"/>
<rect x="816.05" y="1932.75" width="18.5" height="15.75" fill="#fff" stroke="#000" stroke-width="3.5"/>
<rect x="815.3" y="1930.5" width="6.4" height="6.4" fill="none" stroke="#000" stroke-width="4.4"/>
<circle cx="832.2" cy="1933.7" r="3.2" fill="none" stroke="#000" stroke-width="4.4"/>
<rect x="846.35" y="1932.75" width="18.5" height="15.75" fill="#fff" stroke="#000" stroke-width="3.5"/>
<rect x="845.6" y="1930.5" width="6.4" height="6.4" fill="none" stroke="#000" stroke-width="4.4"/>
<circle cx="862.5" cy="1933.7" r="3.2" fill="none" stroke="#000" stroke-width="4.4"/>
<rect x="877.55" y="1932.75" width="18.5" height="15.75" fill="#fff" stroke="#000" stroke-width="3.5"/>
<rect x="876.8" y="1930.5" width="6.4" height="6.4" fill="none" stroke="#000" stroke-width="4.4"/>
<circle cx="893.7" cy="1933.7" r="3.2" fill="none" stroke="#000" stroke-width="4.4"/>
<rect x="907.85" y="1932.75" width="18.5" height="15.75" fill="#fff" stroke="#000" stroke-width="3.5"/>
<rect x="907.1" y="1930.5" width="6.4" height="6.4" fill="none" stroke="#000" stroke-width="4.4"/>
<circle cx="924" cy="1933.7" r="3.2" fill="none" stroke="#000" stroke-width="4.4"/>
<rect x="960.25" y="1934.25" width="18.5" height="14.25" fill="#7c7d7f" stroke="#000" stroke-width="3.5"/>
<rect x="960.3" y="1928.8" width="8.4" height="8.4" fill="#000"/>
<circle cx="974.5" cy="1932.5" r="4.2" fill="#000"/>
<rect x="991.05" y="1934.25" width="18.5" height="14.25" fill="#7c7d7f" stroke="#000" stroke-width="3.5"/>
<rect x="991.1" y="1928.8" width="8.4" height="8.4" fill="#000"/>
<circle cx="1005.3" cy="1932.5" r="4.2" fill="#000"/>
<rect x="1021.85" y="1934.25" width="18.5" height="14.25" fill="#7c7d7f" stroke="#000" stroke-width="3.5"/>
<rect x="1021.9" y="1928.8" width="8.4" height="8.4" fill="#000"/>
<circle cx="1036.1" cy="1932.5" r="4.2" fill="#000"/>
<rect x="1052.65" y="1934.25" width="18.5" height="14.25" fill="#7c7d7f" stroke="#000" stroke-width="3.5"/>
<rect x="1052.7" y="1928.8" width="8.4" height="8.4" fill="#000"/>
<circle cx="1066.9" cy="1932.5" r="4.2" fill="#000"/>
<rect x="1083.35" y="1934.25" width="18.5" height="14.25" fill="#7c7d7f" stroke="#000" stroke-width="3.5"/>
<rect x="1083.4" y="1928.8" width="8.4" height="8.4" fill="#000"/>
<circle cx="1097.6" cy="1932.5" r="4.2" fill="#000"/>
<rect x="1114.15" y="1934.25" width="18.5" height="14.25" fill="#7c7d7f" stroke="#000" stroke-width="3.5"/>
<rect x="1114.2" y="1928.8" width="8.4" height="8.4" fill="#000"/>
<circle cx="1128.4" cy="1932.5" r="4.2" fill="#000"/>
<line x1="744" y1="1608.7" x2="744" y2="1950.9" stroke="#000" stroke-width="4.8" stroke-linecap="butt"/>
<line x1="741.6" y1="1948.5" x2="1146.6" y2="1948.5" stroke="#000" stroke-width="4.8" stroke-linecap="butt"/>
<line x1="738.6" y1="1948.5" x2="744" y2="1948.5" stroke="#000" stroke-width="3" stroke-linecap="butt"/>
<text x="738" y="1959.3" font-size="30.5" text-anchor="end" stroke="#000" stroke-width="0.45">0</text>
<line x1="738.6" y1="1864.1" x2="744" y2="1864.1" stroke="#000" stroke-width="3" stroke-linecap="butt"/>
<text x="738" y="1874.9" font-size="30.5" text-anchor="end" stroke="#000" stroke-width="0.45">5</text>
<line x1="738.6" y1="1779.7" x2="744" y2="1779.7" stroke="#000" stroke-width="3" stroke-linecap="butt"/>
<text x="738" y="1790.5" font-size="30.5" text-anchor="end" stroke="#000" stroke-width="0.45">10</text>
<line x1="738.6" y1="1695.3" x2="744" y2="1695.3" stroke="#000" stroke-width="3" stroke-linecap="butt"/>
<text x="738" y="1706.1" font-size="30.5" text-anchor="end" stroke="#000" stroke-width="0.45">15</text>
<line x1="738.6" y1="1610.9" x2="744" y2="1610.9" stroke="#000" stroke-width="3" stroke-linecap="butt"/>
<text x="738" y="1621.7" font-size="30.5" text-anchor="end" stroke="#000" stroke-width="0.45">20</text>
<line x1="764.5" y1="1948.5" x2="764.5" y2="1953.9" stroke="#000" stroke-width="3.5" stroke-linecap="butt"/>
<line x1="794.5" y1="1948.5" x2="794.5" y2="1953.9" stroke="#000" stroke-width="3.5" stroke-linecap="butt"/>
<line x1="825.3" y1="1948.5" x2="825.3" y2="1953.9" stroke="#000" stroke-width="3.5" stroke-linecap="butt"/>
<line x1="855.6" y1="1948.5" x2="855.6" y2="1953.9" stroke="#000" stroke-width="3.5" stroke-linecap="butt"/>
<line x1="886.8" y1="1948.5" x2="886.8" y2="1953.9" stroke="#000" stroke-width="3.5" stroke-linecap="butt"/>
<line x1="917.1" y1="1948.5" x2="917.1" y2="1953.9" stroke="#000" stroke-width="3.5" stroke-linecap="butt"/>
<line x1="969.5" y1="1948.5" x2="969.5" y2="1953.9" stroke="#000" stroke-width="3.5" stroke-linecap="butt"/>
<line x1="1000.3" y1="1948.5" x2="1000.3" y2="1953.9" stroke="#000" stroke-width="3.5" stroke-linecap="butt"/>
<line x1="1031.1" y1="1948.5" x2="1031.1" y2="1953.9" stroke="#000" stroke-width="3.5" stroke-linecap="butt"/>
<line x1="1061.9" y1="1948.5" x2="1061.9" y2="1953.9" stroke="#000" stroke-width="3.5" stroke-linecap="butt"/>
<line x1="1092.6" y1="1948.5" x2="1092.6" y2="1953.9" stroke="#000" stroke-width="3.5" stroke-linecap="butt"/>
<line x1="1123.4" y1="1948.5" x2="1123.4" y2="1953.9" stroke="#000" stroke-width="3.5" stroke-linecap="butt"/>
<text x="771.66" y="1958" font-size="22.4" text-anchor="end" stroke="#000" stroke-width="0.45" transform="rotate(-90 771.66 1958)">Day -2</text>
<text x="801.66" y="1958" font-size="22.4" text-anchor="end" stroke="#000" stroke-width="0.45" transform="rotate(-90 801.66 1958)">Day 1-6hr</text>
<text x="832.46" y="1958" font-size="22.4" text-anchor="end" stroke="#000" stroke-width="0.45" transform="rotate(-90 832.46 1958)">Day 2</text>
<text x="862.76" y="1958" font-size="22.4" text-anchor="end" stroke="#000" stroke-width="0.45" transform="rotate(-90 862.76 1958)">Day 15-Pre</text>
<text x="893.96" y="1958" font-size="22.4" text-anchor="end" stroke="#000" stroke-width="0.45" transform="rotate(-90 893.96 1958)">Day 15-6hr</text>
<text x="924.26" y="1958" font-size="22.4" text-anchor="end" stroke="#000" stroke-width="0.45" transform="rotate(-90 924.26 1958)">Day 16</text>
<text x="976.66" y="1958" font-size="22.4" text-anchor="end" stroke="#000" stroke-width="0.45" transform="rotate(-90 976.66 1958)">Day  -2</text>
<text x="1007.46" y="1958" font-size="22.4" text-anchor="end" stroke="#000" stroke-width="0.45" transform="rotate(-90 1007.46 1958)">Day 1-6hr</text>
<text x="1038.26" y="1958" font-size="22.4" text-anchor="end" stroke="#000" stroke-width="0.45" transform="rotate(-90 1038.26 1958)">Day 2</text>
<text x="1069.06" y="1958" font-size="22.4" text-anchor="end" stroke="#000" stroke-width="0.45" transform="rotate(-90 1069.06 1958)">Day 15-Pre</text>
<text x="1099.76" y="1958" font-size="22.4" text-anchor="end" stroke="#000" stroke-width="0.45" transform="rotate(-90 1099.76 1958)">Day 15-6hr</text>
<text x="1130.56" y="1958" font-size="22.4" text-anchor="end" stroke="#000" stroke-width="0.45" transform="rotate(-90 1130.56 1958)">Day 16</text>
<text x="690.9" y="1791.5" font-size="34.2" text-anchor="middle" stroke="#000" stroke-width="0.45" transform="rotate(-90 690.9 1791.5)">TNF-α (pg/mL)</text>
<text x="1152.3" y="1940.8" font-size="16" stroke="#000" stroke-width="0.3">LLOQ</text>
<text x="255" y="2207" font-size="42" font-style="italic" stroke="#000" stroke-width="0.45">ACTB</text>
<text x="364" y="2193.3" font-size="24" font-style="italic" stroke="#000" stroke-width="0.45">D25</text>
<line x1="142.7" y1="2214.6" x2="510.5" y2="2214.6" stroke="#000" stroke-width="4.2" stroke-linecap="butt"/>
<rect x="159.25" y="2365.1" width="79.3" height="7.8" fill="#5a5b5d" stroke="#000" stroke-width="3.2"/>
<circle cx="198.9" cy="2360.2" r="5.8" fill="#000"/>
<circle cx="198.9" cy="2367.6" r="5.8" fill="#000"/>
<rect x="248.25" y="2315.1" width="79.3" height="57.8" fill="#5a5b5d" stroke="#000" stroke-width="3.2"/>
<circle cx="287.9" cy="2273.3" r="5.8" fill="#000"/>
<circle cx="287.9" cy="2356.5" r="5.8" fill="#000"/>
<rect x="336.75" y="2365.5" width="79.3" height="7.4" fill="#5a5b5d" stroke="#000" stroke-width="3.2"/>
<circle cx="376.4" cy="2363.5" r="5.8" fill="#000"/>
<circle cx="376.4" cy="2366.8" r="5.8" fill="#000"/>
<rect x="425.75" y="2352.8" width="79.3" height="20.1" fill="#5a5b5d" stroke="#000" stroke-width="3.2"/>
<circle cx="465.4" cy="2345.8" r="5.8" fill="#000"/>
<circle cx="465.4" cy="2358.2" r="5.8" fill="#000"/>
<line x1="145.6" y1="2232.3" x2="145.6" y2="2377.8" stroke="#000" stroke-width="4" stroke-linecap="butt"/>
<line x1="139.3" y1="2373.7" x2="145.6" y2="2373.7" stroke="#333" stroke-width="3" stroke-linecap="butt"/>
<text x="134.5" y="2380.9" font-size="20" text-anchor="end" fill="#4d4d4d" stroke="#4d4d4d" stroke-width="0.3">0</text>
<line x1="139.3" y1="2346.64" x2="145.6" y2="2346.64" stroke="#333" stroke-width="3" stroke-linecap="butt"/>
<text x="134.5" y="2353.84" font-size="20" text-anchor="end" fill="#4d4d4d" stroke="#4d4d4d" stroke-width="0.3">1</text>
<line x1="139.3" y1="2319.58" x2="145.6" y2="2319.58" stroke="#333" stroke-width="3" stroke-linecap="butt"/>
<text x="134.5" y="2326.78" font-size="20" text-anchor="end" fill="#4d4d4d" stroke="#4d4d4d" stroke-width="0.3">2</text>
<line x1="139.3" y1="2292.52" x2="145.6" y2="2292.52" stroke="#333" stroke-width="3" stroke-linecap="butt"/>
<text x="134.5" y="2299.72" font-size="20" text-anchor="end" fill="#4d4d4d" stroke="#4d4d4d" stroke-width="0.3">3</text>
<line x1="139.3" y1="2265.46" x2="145.6" y2="2265.46" stroke="#333" stroke-width="3" stroke-linecap="butt"/>
<text x="134.5" y="2272.66" font-size="20" text-anchor="end" fill="#4d4d4d" stroke="#4d4d4d" stroke-width="0.3">4</text>
<line x1="139.3" y1="2238.4" x2="145.6" y2="2238.4" stroke="#333" stroke-width="3" stroke-linecap="butt"/>
<text x="134.5" y="2245.6" font-size="20" text-anchor="end" fill="#4d4d4d" stroke="#4d4d4d" stroke-width="0.3">5</text>
<text x="538.8" y="2280" font-size="30.5" text-anchor="middle" stroke="#000" stroke-width="0.45" transform="rotate(90 538.8 2280)">Strategy 1</text>
<rect x="159.25" y="2525" width="79.3" height="9.1" fill="#5a5b5d" stroke="#000" stroke-width="3.2"/>
<circle cx="198.9" cy="2517.3" r="5.8" fill="#000"/>
<circle cx="198.9" cy="2528.7" r="5.8" fill="#000"/>
<rect x="248.25" y="2521.7" width="79.3" height="12.4" fill="#5a5b5d" stroke="#000" stroke-width="3.2"/>
<circle cx="287.9" cy="2513.2" r="5.8" fill="#000"/>
<circle cx="287.9" cy="2527.5" r="5.8" fill="#000"/>
<rect x="336.75" y="2509.8" width="79.3" height="24.3" fill="#5a5b5d" stroke="#000" stroke-width="3.2"/>
<circle cx="376.4" cy="2492.6" r="5.8" fill="#000"/>
<circle cx="376.4" cy="2525.5" r="5.8" fill="#000"/>
<rect x="425.75" y="2518.9" width="79.3" height="15.2" fill="#5a5b5d" stroke="#000" stroke-width="3.2"/>
<circle cx="465.4" cy="2515.2" r="5.8" fill="#000"/>
<circle cx="465.4" cy="2521.4" r="5.8" fill="#000"/>
<line x1="145.6" y1="2393.4" x2="145.6" y2="2541.8" stroke="#000" stroke-width="4" stroke-linecap="butt"/>
<line x1="139.3" y1="2534.5" x2="145.6" y2="2534.5" stroke="#333" stroke-width="3" stroke-linecap="butt"/>
<text x="134.5" y="2541.7" font-size="20" text-anchor="end" fill="#4d4d4d" stroke="#4d4d4d" stroke-width="0.3">0</text>
<line x1="139.3" y1="2507.5" x2="145.6" y2="2507.5" stroke="#333" stroke-width="3" stroke-linecap="butt"/>
<text x="134.5" y="2514.7" font-size="20" text-anchor="end" fill="#4d4d4d" stroke="#4d4d4d" stroke-width="0.3">1</text>
<line x1="139.3" y1="2480.5" x2="145.6" y2="2480.5" stroke="#333" stroke-width="3" stroke-linecap="butt"/>
<text x="134.5" y="2487.7" font-size="20" text-anchor="end" fill="#4d4d4d" stroke="#4d4d4d" stroke-width="0.3">2</text>
<line x1="139.3" y1="2453.5" x2="145.6" y2="2453.5" stroke="#333" stroke-width="3" stroke-linecap="butt"/>
<text x="134.5" y="2460.7" font-size="20" text-anchor="end" fill="#4d4d4d" stroke="#4d4d4d" stroke-width="0.3">3</text>
<line x1="139.3" y1="2426.5" x2="145.6" y2="2426.5" stroke="#333" stroke-width="3" stroke-linecap="butt"/>
<text x="134.5" y="2433.7" font-size="20" text-anchor="end" fill="#4d4d4d" stroke="#4d4d4d" stroke-width="0.3">4</text>
<line x1="139.3" y1="2399.5" x2="145.6" y2="2399.5" stroke="#333" stroke-width="3" stroke-linecap="butt"/>
<text x="134.5" y="2406.7" font-size="20" text-anchor="end" fill="#4d4d4d" stroke="#4d4d4d" stroke-width="0.3">5</text>
<text x="538.8" y="2466.5" font-size="30.5" text-anchor="middle" stroke="#000" stroke-width="0.45" transform="rotate(90 538.8 2466.5)">Strategy 2</text>
<line x1="143.6" y1="2541.8" x2="517.5" y2="2541.8" stroke="#000" stroke-width="3.4" stroke-linecap="butt"/>
<line x1="198.9" y1="2541.8" x2="198.9" y2="2547.8" stroke="#333" stroke-width="3" stroke-linecap="butt"/>
<text x="211.9" y="2573.8" font-size="30" text-anchor="end" stroke="#000" stroke-width="0.45" transform="rotate(-45 211.9 2573.8)">Adrenal Gland</text>
<line x1="287.9" y1="2541.8" x2="287.9" y2="2547.8" stroke="#333" stroke-width="3" stroke-linecap="butt"/>
<text x="300.9" y="2573.8" font-size="30" text-anchor="end" stroke="#000" stroke-width="0.45" transform="rotate(-45 300.9 2573.8)">Bone marrow</text>
<line x1="376.4" y1="2541.8" x2="376.4" y2="2547.8" stroke="#333" stroke-width="3" stroke-linecap="butt"/>
<text x="389.4" y="2573.8" font-size="30" text-anchor="end" stroke="#000" stroke-width="0.45" transform="rotate(-45 389.4 2573.8)">Heart</text>
<line x1="465.4" y1="2541.8" x2="465.4" y2="2547.8" stroke="#333" stroke-width="3" stroke-linecap="butt"/>
<text x="478.4" y="2573.8" font-size="30" text-anchor="end" stroke="#000" stroke-width="0.45" transform="rotate(-45 478.4 2573.8)">Ovaries</text>
<text x="103.7" y="2398" font-size="26" text-anchor="middle" stroke="#000" stroke-width="0.45" transform="rotate(-90 103.7 2398)">Editing (%)</text>
<text x="891.3" y="2200.9" font-size="42" font-style="italic" stroke="#000" stroke-width="0.45">ACTB</text>
<text x="1002" y="2187" font-size="24" font-style="italic" stroke="#000" stroke-width="0.45">T149</text>
<line x1="783.5" y1="2215.9" x2="1145.6" y2="2215.9" stroke="#000" stroke-width="4.2" stroke-linecap="butt"/>
<rect x="801.35" y="2355.6" width="79.3" height="17.8" fill="#5a5b5d" stroke="#000" stroke-width="3.2"/>
<circle cx="841" cy="2351.2" r="5.8" fill="#000"/>
<circle cx="841" cy="2360.2" r="5.8" fill="#000"/>
<rect x="890.25" y="2339.2" width="79.3" height="34.2" fill="#5a5b5d" stroke="#000" stroke-width="3.2"/>
<circle cx="929.9" cy="2332.7" r="5.8" fill="#000"/>
<circle cx="929.9" cy="2342.2" r="5.8" fill="#000"/>
<rect x="979.25" y="2366.3" width="79.3" height="7.1" fill="#5a5b5d" stroke="#000" stroke-width="3.2"/>
<circle cx="1018.9" cy="2364.2" r="5.8" fill="#000"/>
<circle cx="1018.9" cy="2365.2" r="5.8" fill="#000"/>
<rect x="1067.85" y="2363.8" width="79.3" height="9.6" fill="#5a5b5d" stroke="#000" stroke-width="3.2"/>
<circle cx="1107.5" cy="2357.3" r="5.8" fill="#000"/>
<circle cx="1107.5" cy="2368.4" r="5.8" fill="#000"/>
<line x1="787.6" y1="2233.5" x2="787.6" y2="2379.9" stroke="#000" stroke-width="4" stroke-linecap="butt"/>
<line x1="781.3" y1="2374.5" x2="787.6" y2="2374.5" stroke="#333" stroke-width="3" stroke-linecap="butt"/>
<text x="776.5" y="2381.7" font-size="20" text-anchor="end" fill="#4d4d4d" stroke="#4d4d4d" stroke-width="0.3">0</text>
<line x1="781.3" y1="2347.28" x2="787.6" y2="2347.28" stroke="#333" stroke-width="3" stroke-linecap="butt"/>
<text x="776.5" y="2354.48" font-size="20" text-anchor="end" fill="#4d4d4d" stroke="#4d4d4d" stroke-width="0.3">1</text>
<line x1="781.3" y1="2320.06" x2="787.6" y2="2320.06" stroke="#333" stroke-width="3" stroke-linecap="butt"/>
<text x="776.5" y="2327.26" font-size="20" text-anchor="end" fill="#4d4d4d" stroke="#4d4d4d" stroke-width="0.3">2</text>
<line x1="781.3" y1="2292.84" x2="787.6" y2="2292.84" stroke="#333" stroke-width="3" stroke-linecap="butt"/>
<text x="776.5" y="2300.04" font-size="20" text-anchor="end" fill="#4d4d4d" stroke="#4d4d4d" stroke-width="0.3">3</text>
<line x1="781.3" y1="2265.62" x2="787.6" y2="2265.62" stroke="#333" stroke-width="3" stroke-linecap="butt"/>
<text x="776.5" y="2272.82" font-size="20" text-anchor="end" fill="#4d4d4d" stroke="#4d4d4d" stroke-width="0.3">4</text>
<line x1="781.3" y1="2238.4" x2="787.6" y2="2238.4" stroke="#333" stroke-width="3" stroke-linecap="butt"/>
<text x="776.5" y="2245.6" font-size="20" text-anchor="end" fill="#4d4d4d" stroke="#4d4d4d" stroke-width="0.3">5</text>
<text x="1182.5" y="2284" font-size="30.5" text-anchor="middle" stroke="#000" stroke-width="0.45" transform="rotate(90 1182.5 2284)">Strategy 1</text>
<rect x="801.35" y="2509.8" width="79.3" height="25.1" fill="#5a5b5d" stroke="#000" stroke-width="3.2"/>
<circle cx="841" cy="2502.9" r="5.8" fill="#000"/>
<circle cx="841" cy="2515.2" r="5.8" fill="#000"/>
<rect x="890.25" y="2520.9" width="79.3" height="14" fill="#5a5b5d" stroke="#000" stroke-width="3.2"/>
<circle cx="929.9" cy="2516.4" r="5.8" fill="#000"/>
<circle cx="929.9" cy="2523.4" r="5.8" fill="#000"/>
<rect x="979.25" y="2521.7" width="79.3" height="13.2" fill="#5a5b5d" stroke="#000" stroke-width="3.2"/>
<circle cx="1018.9" cy="2516.4" r="5.8" fill="#000"/>
<circle cx="1018.9" cy="2524.2" r="5.8" fill="#000"/>
<rect x="1067.85" y="2509.8" width="79.3" height="25.1" fill="#5a5b5d" stroke="#000" stroke-width="3.2"/>
<circle cx="1107.5" cy="2496.7" r="5.8" fill="#000"/>
<circle cx="1107.5" cy="2521.4" r="5.8" fill="#000"/>
<line x1="787.6" y1="2394.2" x2="787.6" y2="2543.9" stroke="#000" stroke-width="4" stroke-linecap="butt"/>
<line x1="781.3" y1="2535.7" x2="787.6" y2="2535.7" stroke="#333" stroke-width="3" stroke-linecap="butt"/>
<text x="776.5" y="2542.9" font-size="20" text-anchor="end" fill="#4d4d4d" stroke="#4d4d4d" stroke-width="0.3">0</text>
<line x1="781.3" y1="2508.64" x2="787.6" y2="2508.64" stroke="#333" stroke-width="3" stroke-linecap="butt"/>
<text x="776.5" y="2515.84" font-size="20" text-anchor="end" fill="#4d4d4d" stroke="#4d4d4d" stroke-width="0.3">1</text>
<line x1="781.3" y1="2481.58" x2="787.6" y2="2481.58" stroke="#333" stroke-width="3" stroke-linecap="butt"/>
<text x="776.5" y="2488.78" font-size="20" text-anchor="end" fill="#4d4d4d" stroke="#4d4d4d" stroke-width="0.3">2</text>
<line x1="781.3" y1="2454.52" x2="787.6" y2="2454.52" stroke="#333" stroke-width="3" stroke-linecap="butt"/>
<text x="776.5" y="2461.72" font-size="20" text-anchor="end" fill="#4d4d4d" stroke="#4d4d4d" stroke-width="0.3">3</text>
<line x1="781.3" y1="2427.46" x2="787.6" y2="2427.46" stroke="#333" stroke-width="3" stroke-linecap="butt"/>
<text x="776.5" y="2434.66" font-size="20" text-anchor="end" fill="#4d4d4d" stroke="#4d4d4d" stroke-width="0.3">4</text>
<line x1="781.3" y1="2400.4" x2="787.6" y2="2400.4" stroke="#333" stroke-width="3" stroke-linecap="butt"/>
<text x="776.5" y="2407.6" font-size="20" text-anchor="end" fill="#4d4d4d" stroke="#4d4d4d" stroke-width="0.3">5</text>
<text x="1182.5" y="2470.5" font-size="30.5" text-anchor="middle" stroke="#000" stroke-width="0.45" transform="rotate(90 1182.5 2470.5)">Strategy 2</text>
<line x1="785.6" y1="2542.7" x2="1160.8" y2="2542.7" stroke="#000" stroke-width="3.4" stroke-linecap="butt"/>
<line x1="841" y1="2542.7" x2="841" y2="2548.7" stroke="#333" stroke-width="3" stroke-linecap="butt"/>
<text x="854" y="2574.7" font-size="30" text-anchor="end" stroke="#000" stroke-width="0.45" transform="rotate(-45 854 2574.7)">Adrenal Gland</text>
<line x1="929.9" y1="2542.7" x2="929.9" y2="2548.7" stroke="#333" stroke-width="3" stroke-linecap="butt"/>
<text x="942.9" y="2574.7" font-size="30" text-anchor="end" stroke="#000" stroke-width="0.45" transform="rotate(-45 942.9 2574.7)">Bone marrow</text>
<line x1="1018.9" y1="2542.7" x2="1018.9" y2="2548.7" stroke="#333" stroke-width="3" stroke-linecap="butt"/>
<text x="1031.9" y="2574.7" font-size="30" text-anchor="end" stroke="#000" stroke-width="0.45" transform="rotate(-45 1031.9 2574.7)">Heart</text>
<line x1="1107.5" y1="2542.7" x2="1107.5" y2="2548.7" stroke="#333" stroke-width="3" stroke-linecap="butt"/>
<text x="1120.5" y="2574.7" font-size="30" text-anchor="end" stroke="#000" stroke-width="0.45" transform="rotate(-45 1120.5 2574.7)">Ovaries</text>
<text x="745.7" y="2403.6" font-size="26" text-anchor="middle" stroke="#000" stroke-width="0.45" transform="rotate(-90 745.7 2403.6)">Editing (%)</text>
<text x="1331" y="664.8" font-size="36.6" stroke="#000" stroke-width="0.45">Strategy 1</text>
<circle cx="1381.2" cy="727" r="17.4" fill="#fff" stroke="#000" stroke-width="3.6"/>
<text x="1428" y="739.4" font-size="36.6" stroke="#000" stroke-width="0.45">Replicate 1</text>
<rect x="1364.3" y="765.6" width="34.3" height="33.3" fill="#fff" stroke="#000" stroke-width="3.2"/>
<text x="1428" y="795" font-size="36.6" stroke="#000" stroke-width="0.45">Replicate 2</text>
<text x="1331" y="879" font-size="36.6" stroke="#000" stroke-width="0.45">Strategy 2</text>
<circle cx="1381.2" cy="941.3" r="19.8" fill="#000"/>
<text x="1428" y="953.7" font-size="36.6" stroke="#000" stroke-width="0.45">Replicate 1</text>
<rect x="1362.7" y="975" width="37.8" height="37" fill="#000"/>
<text x="1428" y="1009" font-size="36.6" stroke="#000" stroke-width="0.45">Replicate 2</text>
<text x="-1" y="31.2" font-size="54.5" font-weight="bold" stroke="#000" stroke-width="0.45">a</text>
<text x="-3.5" y="1082" font-size="57" font-weight="bold" stroke="#000" stroke-width="0.45">b</text>
<text x="-0.9" y="2240.3" font-size="57" font-weight="bold" stroke="#000" stroke-width="0.45">c</text>
<text x="664.1" y="2240" font-size="57" font-weight="bold" stroke="#000" stroke-width="0.45">d</text>
</svg>
</body></html>
